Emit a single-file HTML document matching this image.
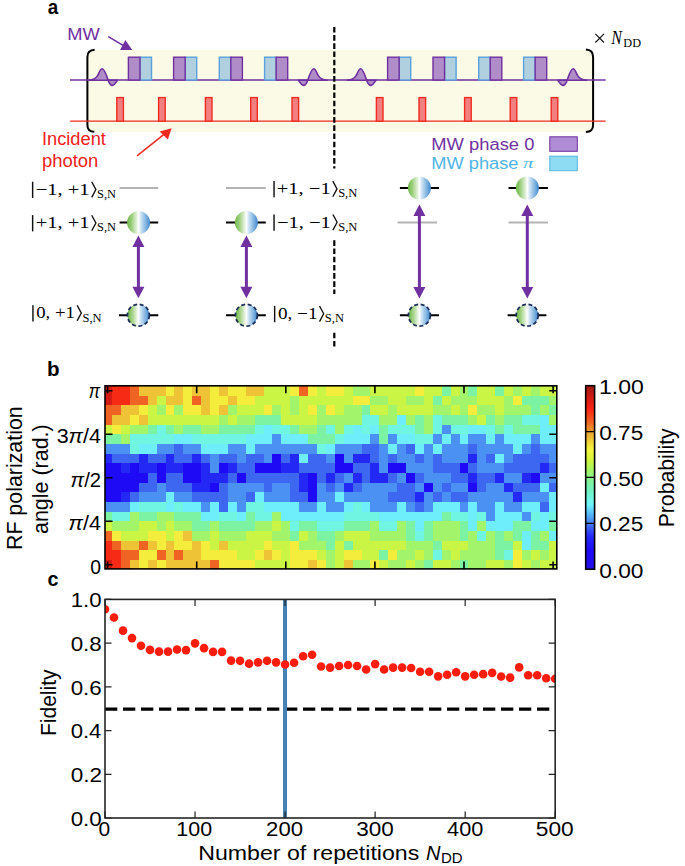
<!DOCTYPE html>
<html><head><meta charset="utf-8"><style>
html,body{margin:0;padding:0;background:#fff;width:685px;height:866px;overflow:hidden;}
svg{display:block;}
text{font-family:"Liberation Sans",sans-serif;}
.sf{font-family:"Liberation Serif",serif;}
</style></head><body>
<svg width="685" height="866" viewBox="0 0 685 866">
<defs>
<linearGradient id="sph" x1="0" y1="0" x2="1" y2="0">
<stop offset="0" stop-color="#6cb84a"/><stop offset="0.2" stop-color="#9fd07f"/><stop offset="0.42" stop-color="#e3f1da"/>
<stop offset="0.5" stop-color="#ffffff"/><stop offset="0.6" stop-color="#cfe3f3"/><stop offset="0.82" stop-color="#7fb3e0"/><stop offset="1" stop-color="#3f86cc"/>
</linearGradient>
<marker id="ah" viewBox="0 0 10 10" refX="10" refY="5" markerWidth="4" markerHeight="4" orient="auto-start-reverse"><path d="M0 0L10 5L0 10z" fill="#7030a0"/></marker>
</defs>
<!-- ===== panel a ===== -->
<text x="47.80" y="14.15" font-size="21.00" font-weight="bold" textLength="10.44" lengthAdjust="spacingAndGlyphs">a</text>
<text x="67.30" y="40.00" font-size="17.30"  fill="#7030a0" textLength="32.47" lengthAdjust="spacingAndGlyphs">MW</text>
<text x="41.95" y="144.65" font-size="17.60"  fill="#f02020" textLength="63.99" lengthAdjust="spacingAndGlyphs">Incident</text>
<text x="41.95" y="166.55" font-size="17.60"  fill="#f02020" textLength="56.36" lengthAdjust="spacingAndGlyphs">photon</text>
<text x="431.30" y="149.70" font-size="17.30"  fill="#7030a0" textLength="103.11" lengthAdjust="spacingAndGlyphs">MW phase 0</text>
<text x="431.30" y="169.00" font-size="17.30"  fill="#4fb4e6" textLength="87.21" lengthAdjust="spacingAndGlyphs">MW phase</text>
<text x="523.00" y="167.95" font-size="14.85" class="sf" font-style="italic" fill="#4fb4e6" textLength="10.56" lengthAdjust="spacingAndGlyphs">π</text>
<path d="M595.4 33.9L604 42.5M604 33.9L595.4 42.5" stroke="#111" stroke-width="1.15"/>
<text x="611.35" y="43.55" font-size="18.57" class="sf" font-style="italic" textLength="10.65" lengthAdjust="spacingAndGlyphs">N</text>
<text x="623.35" y="47.05" font-size="11.93" class="sf" textLength="17.72" lengthAdjust="spacingAndGlyphs">DD</text>
<line x1="32.65" y1="181.70" x2="32.65" y2="198.00" stroke="#111" stroke-width="1.45"/>
<text x="35.70" y="194.90" font-size="16.60" class="sf" textLength="53.89" lengthAdjust="spacingAndGlyphs">−1, +1</text>
<path d="M91.70 181.80L95.90 189.60L91.70 197.40" fill="none" stroke="#111" stroke-width="1.35"/>
<text x="97.05" y="198.05" font-size="12.60" class="sf" textLength="19.09" lengthAdjust="spacingAndGlyphs">S,N</text>
<line x1="32.65" y1="215.10" x2="32.65" y2="231.40" stroke="#111" stroke-width="1.45"/>
<text x="35.70" y="228.30" font-size="16.60" class="sf" textLength="53.89" lengthAdjust="spacingAndGlyphs">+1, +1</text>
<path d="M91.70 215.20L95.90 223.00L91.70 230.80" fill="none" stroke="#111" stroke-width="1.35"/>
<text x="97.05" y="231.45" font-size="12.60" class="sf" textLength="19.09" lengthAdjust="spacingAndGlyphs">S,N</text>
<line x1="32.95" y1="305.20" x2="32.95" y2="321.50" stroke="#111" stroke-width="1.45"/>
<text x="36.25" y="318.40" font-size="16.60" class="sf" textLength="38.64" lengthAdjust="spacingAndGlyphs">0, +1</text>
<path d="M77.10 305.30L81.30 313.10L77.10 320.90" fill="none" stroke="#111" stroke-width="1.35"/>
<text x="82.45" y="321.55" font-size="12.60" class="sf" textLength="19.09" lengthAdjust="spacingAndGlyphs">S,N</text>
<line x1="274.05" y1="181.00" x2="274.05" y2="197.30" stroke="#111" stroke-width="1.45"/>
<text x="276.80" y="194.20" font-size="16.60" class="sf" textLength="53.89" lengthAdjust="spacingAndGlyphs">+1, −1</text>
<path d="M332.80 181.10L337.00 188.90L332.80 196.70" fill="none" stroke="#111" stroke-width="1.35"/>
<text x="338.15" y="197.35" font-size="12.60" class="sf" textLength="19.09" lengthAdjust="spacingAndGlyphs">S,N</text>
<line x1="274.05" y1="214.40" x2="274.05" y2="230.70" stroke="#111" stroke-width="1.45"/>
<text x="277.00" y="227.60" font-size="16.60" class="sf" textLength="53.84" lengthAdjust="spacingAndGlyphs">−1, −1</text>
<path d="M332.90 214.50L337.10 222.30L332.90 230.10" fill="none" stroke="#111" stroke-width="1.35"/>
<text x="338.25" y="230.75" font-size="12.60" class="sf" textLength="19.09" lengthAdjust="spacingAndGlyphs">S,N</text>
<line x1="274.65" y1="305.90" x2="274.65" y2="322.20" stroke="#111" stroke-width="1.45"/>
<text x="277.95" y="319.10" font-size="16.60" class="sf" textLength="39.53" lengthAdjust="spacingAndGlyphs">0, −1</text>
<path d="M319.50 306.00L323.70 313.80L319.50 321.60" fill="none" stroke="#111" stroke-width="1.35"/>
<text x="324.85" y="322.25" font-size="12.60" class="sf" textLength="19.09" lengthAdjust="spacingAndGlyphs">S,N</text>

<line x1="108.3" y1="36.6" x2="123.5" y2="45.6" stroke="#7030a0" stroke-width="1.6"/>
<path d="M125.4 40L120 50.1L132.8 50.8z" fill="#7030a0"/>
<rect x="88" y="50" width="504" height="82" rx="6" fill="#fafae7"/>
<path d="M94.6 49.8C89.5 50 87.4 52.5 87.4 57V125C87.4 129.5 89.5 131.8 94.3 131.8" fill="none" stroke="#000" stroke-width="2"/>
<path d="M585.9 49.5C591 49.7 593.1 52.3 593.1 57V125C593.1 129.5 591 131.8 585.9 132" fill="none" stroke="#000" stroke-width="2"/>
<line x1="70" y1="80" x2="605.7" y2="80" stroke="#7030a0" stroke-width="1.35"/>
<line x1="70.2" y1="121.2" x2="605.7" y2="121.2" stroke="#f02a20" stroke-width="1.3"/>
<rect x="139.95" y="57.20" width="11.55" height="22.80" fill="#b0d0e0" stroke="#5aa0dc" stroke-width="1.4"/>
<rect x="128.40" y="57.20" width="11.55" height="22.80" fill="#b08cc8" stroke="#7030a0" stroke-width="1.4"/>
<rect x="185.15" y="57.20" width="11.55" height="22.80" fill="#b0d0e0" stroke="#5aa0dc" stroke-width="1.4"/>
<rect x="173.60" y="57.20" width="11.55" height="22.80" fill="#b08cc8" stroke="#7030a0" stroke-width="1.4"/>
<rect x="219.30" y="57.20" width="11.55" height="22.80" fill="#b0d0e0" stroke="#5aa0dc" stroke-width="1.4"/>
<rect x="230.85" y="57.20" width="11.55" height="22.80" fill="#b08cc8" stroke="#7030a0" stroke-width="1.4"/>
<rect x="264.60" y="57.20" width="11.55" height="22.80" fill="#b0d0e0" stroke="#5aa0dc" stroke-width="1.4"/>
<rect x="276.15" y="57.20" width="11.55" height="22.80" fill="#b08cc8" stroke="#7030a0" stroke-width="1.4"/>
<rect x="399.15" y="57.20" width="11.55" height="22.80" fill="#b0d0e0" stroke="#5aa0dc" stroke-width="1.4"/>
<rect x="387.60" y="57.20" width="11.55" height="22.80" fill="#b08cc8" stroke="#7030a0" stroke-width="1.4"/>
<rect x="444.55" y="57.20" width="11.55" height="22.80" fill="#b0d0e0" stroke="#5aa0dc" stroke-width="1.4"/>
<rect x="433.00" y="57.20" width="11.55" height="22.80" fill="#b08cc8" stroke="#7030a0" stroke-width="1.4"/>
<rect x="478.70" y="57.20" width="11.55" height="22.80" fill="#b0d0e0" stroke="#5aa0dc" stroke-width="1.4"/>
<rect x="490.25" y="57.20" width="11.55" height="22.80" fill="#b08cc8" stroke="#7030a0" stroke-width="1.4"/>
<rect x="523.60" y="57.20" width="11.55" height="22.80" fill="#b0d0e0" stroke="#5aa0dc" stroke-width="1.4"/>
<rect x="535.15" y="57.20" width="11.55" height="22.80" fill="#b08cc8" stroke="#7030a0" stroke-width="1.4"/>
<path d="M88.70 80.20C93.10 79.90 95.60 79.00 97.60 75.70C99.60 71.70 100.50 68.80 102.20 68.80C104.50 68.80 106.10 74.20 108.10 80.20C109.50 84.20 110.70 85.40 112.45 85.40C114.40 85.40 115.90 82.20 117.50 80.20Z" fill="#b08cc8" stroke="#7030a0" stroke-width="1.6" stroke-linejoin="round"/>
<path d="M327.20 80.20C322.80 79.90 320.30 79.00 318.30 75.70C316.30 71.70 315.40 68.80 313.70 68.80C311.40 68.80 309.80 74.20 307.80 80.20C306.40 84.20 305.20 85.40 303.45 85.40C301.50 85.40 300.00 82.20 298.40 80.20Z" fill="#b08cc8" stroke="#7030a0" stroke-width="1.6" stroke-linejoin="round"/>
<path d="M347.20 80.20C351.60 79.90 354.10 79.00 356.10 75.70C358.10 71.70 359.00 68.80 360.70 68.80C363.00 68.80 364.60 74.20 366.60 80.20C368.00 84.20 369.20 85.40 370.95 85.40C372.90 85.40 374.40 82.20 376.00 80.20Z" fill="#b08cc8" stroke="#7030a0" stroke-width="1.6" stroke-linejoin="round"/>
<path d="M586.60 80.20C582.20 79.90 579.70 79.00 577.70 75.70C575.70 71.70 574.80 68.80 573.10 68.80C570.80 68.80 569.20 74.20 567.20 80.20C565.80 84.20 564.60 85.40 562.85 85.40C560.90 85.40 559.40 82.20 557.80 80.20Z" fill="#b08cc8" stroke="#7030a0" stroke-width="1.6" stroke-linejoin="round"/>
<rect x="116.80" y="97.6" width="6.6" height="23.6" fill="#f28080" stroke="#f02a20" stroke-width="1.4"/>
<rect x="158.60" y="97.6" width="6.6" height="23.6" fill="#f28080" stroke="#f02a20" stroke-width="1.4"/>
<rect x="205.40" y="97.6" width="6.6" height="23.6" fill="#f28080" stroke="#f02a20" stroke-width="1.4"/>
<rect x="250.70" y="97.6" width="6.6" height="23.6" fill="#f28080" stroke="#f02a20" stroke-width="1.4"/>
<rect x="292.00" y="97.6" width="6.6" height="23.6" fill="#f28080" stroke="#f02a20" stroke-width="1.4"/>
<rect x="376.40" y="97.6" width="6.6" height="23.6" fill="#f28080" stroke="#f02a20" stroke-width="1.4"/>
<rect x="419.00" y="97.6" width="6.6" height="23.6" fill="#f28080" stroke="#f02a20" stroke-width="1.4"/>
<rect x="464.60" y="97.6" width="6.6" height="23.6" fill="#f28080" stroke="#f02a20" stroke-width="1.4"/>
<rect x="510.20" y="97.6" width="6.6" height="23.6" fill="#f28080" stroke="#f02a20" stroke-width="1.4"/>
<rect x="551.20" y="97.6" width="6.6" height="23.6" fill="#f28080" stroke="#f02a20" stroke-width="1.4"/>
<line x1="137" y1="155.9" x2="164" y2="134.3" stroke="#f02a20" stroke-width="1.5"/>
<path d="M171.6 128.3L159.7 131.4L167.9 139.5z" fill="#f02a20"/>
<rect x="549.8" y="136.8" width="27.5" height="14.5" fill="#b08cd4" stroke="#7030a0" stroke-width="1"/>
<rect x="549.8" y="156.2" width="27.5" height="14.5" fill="#8edcf4" stroke="#58b4dc" stroke-width="1"/>
<line x1="119.60" y1="188.00" x2="158.20" y2="188.00" stroke="#b4b4b4" stroke-width="2"/>
<line x1="119.60" y1="222.60" x2="158.20" y2="222.60" stroke="#000" stroke-width="2"/>
<line x1="119.00" y1="315.20" x2="158.30" y2="315.20" stroke="#000" stroke-width="2"/>
<circle cx="138.60" cy="222.60" r="11.5" fill="url(#sph)"/>
<circle cx="138.40" cy="315.20" r="11" fill="url(#sph)" stroke="#1c2e58" stroke-width="1.8" stroke-dasharray="4 2.6"/>
<line x1="138.40" y1="245.60" x2="138.40" y2="288.20" stroke="#7030a0" stroke-width="3"/>
<path d="M138.40 235.60L132.40 247.10L144.40 247.10z" fill="#7030a0"/>
<path d="M138.40 298.20L132.40 286.70L144.40 286.70z" fill="#7030a0"/>
<line x1="226.00" y1="188.00" x2="265.80" y2="188.00" stroke="#b4b4b4" stroke-width="2"/>
<line x1="226.00" y1="222.60" x2="265.80" y2="222.60" stroke="#000" stroke-width="2"/>
<line x1="226.00" y1="315.20" x2="265.80" y2="315.20" stroke="#000" stroke-width="2"/>
<circle cx="246.40" cy="222.60" r="11.5" fill="url(#sph)"/>
<circle cx="246.40" cy="315.20" r="11" fill="url(#sph)" stroke="#1c2e58" stroke-width="1.8" stroke-dasharray="4 2.6"/>
<line x1="246.40" y1="245.60" x2="246.40" y2="288.20" stroke="#7030a0" stroke-width="3"/>
<path d="M246.40 235.60L240.40 247.10L252.40 247.10z" fill="#7030a0"/>
<path d="M246.40 298.20L240.40 286.70L252.40 286.70z" fill="#7030a0"/>
<line x1="399.90" y1="188.00" x2="439.00" y2="188.00" stroke="#000" stroke-width="2"/>
<line x1="397.50" y1="222.60" x2="437.00" y2="222.60" stroke="#b4b4b4" stroke-width="2"/>
<line x1="399.90" y1="315.20" x2="439.00" y2="315.20" stroke="#000" stroke-width="2"/>
<circle cx="419.40" cy="188.00" r="11.5" fill="url(#sph)"/>
<circle cx="419.40" cy="315.20" r="11" fill="url(#sph)" stroke="#1c2e58" stroke-width="1.8" stroke-dasharray="4 2.6"/>
<line x1="419.40" y1="214.50" x2="419.40" y2="288.50" stroke="#7030a0" stroke-width="3"/>
<path d="M419.40 204.50L413.40 216.00L425.40 216.00z" fill="#7030a0"/>
<path d="M419.40 298.50L413.40 287.00L425.40 287.00z" fill="#7030a0"/>
<line x1="508.50" y1="188.00" x2="547.90" y2="188.00" stroke="#000" stroke-width="2"/>
<line x1="508.50" y1="222.60" x2="547.90" y2="222.60" stroke="#b4b4b4" stroke-width="2"/>
<line x1="507.60" y1="315.20" x2="546.40" y2="315.20" stroke="#000" stroke-width="2"/>
<circle cx="527.40" cy="188.00" r="11.5" fill="url(#sph)"/>
<circle cx="527.20" cy="315.20" r="11" fill="url(#sph)" stroke="#1c2e58" stroke-width="1.8" stroke-dasharray="4 2.6"/>
<line x1="527.30" y1="214.50" x2="527.30" y2="288.50" stroke="#7030a0" stroke-width="3"/>
<path d="M527.30 204.50L521.30 216.00L533.30 216.00z" fill="#7030a0"/>
<path d="M527.30 298.50L521.30 287.00L533.30 287.00z" fill="#7030a0"/>
<!-- dashed divider -->
<path d="M334.3 26.9V168.5M334.3 240.3V293.9M334.3 332.7V348" stroke="#000" stroke-width="2.2" stroke-dasharray="5.6 2.6"/>
<!-- ===== panel b ===== -->

<clipPath id="hc"><rect x="105.00" y="385.80" width="451.80" height="183.10"/></clipPath>
<g clip-path="url(#hc)" shape-rendering="crispEdges">
<rect x="103.14" y="385.90" width="9.41" height="10.17" fill="#d31b14"/>
<rect x="112.05" y="385.90" width="9.41" height="10.17" fill="#f72a16"/>
<rect x="120.96" y="385.90" width="9.41" height="10.17" fill="#f72a16"/>
<rect x="129.87" y="385.90" width="9.41" height="10.17" fill="#f06423"/>
<rect x="138.78" y="385.90" width="9.41" height="10.17" fill="#eec436"/>
<rect x="147.69" y="385.90" width="9.41" height="10.17" fill="#eec436"/>
<rect x="156.60" y="385.90" width="9.41" height="10.17" fill="#eec436"/>
<rect x="165.51" y="385.90" width="9.41" height="10.17" fill="#f4ed3b"/>
<rect x="174.42" y="385.90" width="9.41" height="10.17" fill="#eec436"/>
<rect x="183.33" y="385.90" width="9.41" height="10.17" fill="#f4ed3b"/>
<rect x="192.24" y="385.90" width="9.41" height="10.17" fill="#eec436"/>
<rect x="201.16" y="385.90" width="9.41" height="10.17" fill="#eec436"/>
<rect x="210.06" y="385.90" width="9.41" height="10.17" fill="#f4ed3b"/>
<rect x="218.97" y="385.90" width="9.41" height="10.17" fill="#eec436"/>
<rect x="227.88" y="385.90" width="9.41" height="10.17" fill="#f4ed3b"/>
<rect x="236.79" y="385.90" width="9.41" height="10.17" fill="#f4ed3b"/>
<rect x="245.70" y="385.90" width="9.41" height="10.17" fill="#eec436"/>
<rect x="254.61" y="385.90" width="9.41" height="10.17" fill="#eec436"/>
<rect x="263.53" y="385.90" width="9.41" height="10.17" fill="#caf544"/>
<rect x="272.44" y="385.90" width="9.41" height="10.17" fill="#caf544"/>
<rect x="281.34" y="385.90" width="9.41" height="10.17" fill="#caf544"/>
<rect x="290.26" y="385.90" width="9.41" height="10.17" fill="#f4ed3b"/>
<rect x="299.17" y="385.90" width="9.41" height="10.17" fill="#f06423"/>
<rect x="308.07" y="385.90" width="9.41" height="10.17" fill="#f4ed3b"/>
<rect x="316.99" y="385.90" width="9.41" height="10.17" fill="#caf544"/>
<rect x="325.90" y="385.90" width="9.41" height="10.17" fill="#f4ed3b"/>
<rect x="334.81" y="385.90" width="9.41" height="10.17" fill="#f4ed3b"/>
<rect x="343.71" y="385.90" width="9.41" height="10.17" fill="#caf544"/>
<rect x="352.63" y="385.90" width="9.41" height="10.17" fill="#a2f56b"/>
<rect x="361.54" y="385.90" width="9.41" height="10.17" fill="#a2f56b"/>
<rect x="370.44" y="385.90" width="9.41" height="10.17" fill="#caf544"/>
<rect x="379.35" y="385.90" width="9.41" height="10.17" fill="#caf544"/>
<rect x="388.27" y="385.90" width="9.41" height="10.17" fill="#caf544"/>
<rect x="397.18" y="385.90" width="9.41" height="10.17" fill="#caf544"/>
<rect x="406.08" y="385.90" width="9.41" height="10.17" fill="#caf544"/>
<rect x="415.00" y="385.90" width="9.41" height="10.17" fill="#f4ed3b"/>
<rect x="423.91" y="385.90" width="9.41" height="10.17" fill="#caf544"/>
<rect x="432.81" y="385.90" width="9.41" height="10.17" fill="#caf544"/>
<rect x="441.72" y="385.90" width="9.41" height="10.17" fill="#7cf2a3"/>
<rect x="450.64" y="385.90" width="9.41" height="10.17" fill="#caf544"/>
<rect x="459.55" y="385.90" width="9.41" height="10.17" fill="#a2f56b"/>
<rect x="468.45" y="385.90" width="9.41" height="10.17" fill="#7cf2a3"/>
<rect x="477.37" y="385.90" width="9.41" height="10.17" fill="#caf544"/>
<rect x="486.28" y="385.90" width="9.41" height="10.17" fill="#caf544"/>
<rect x="495.19" y="385.90" width="9.41" height="10.17" fill="#7cf2a3"/>
<rect x="504.09" y="385.90" width="9.41" height="10.17" fill="#caf544"/>
<rect x="513.00" y="385.90" width="9.41" height="10.17" fill="#a2f56b"/>
<rect x="521.91" y="385.90" width="9.41" height="10.17" fill="#caf544"/>
<rect x="530.82" y="385.90" width="9.41" height="10.17" fill="#a2f56b"/>
<rect x="539.74" y="385.90" width="9.41" height="10.17" fill="#caf544"/>
<rect x="548.64" y="385.90" width="9.41" height="10.17" fill="#caf544"/>
<rect x="103.14" y="395.57" width="9.41" height="10.17" fill="#d31b14"/>
<rect x="112.05" y="395.57" width="9.41" height="10.17" fill="#f72a16"/>
<rect x="120.96" y="395.57" width="9.41" height="10.17" fill="#f72a16"/>
<rect x="129.87" y="395.57" width="9.41" height="10.17" fill="#f06423"/>
<rect x="138.78" y="395.57" width="9.41" height="10.17" fill="#f06423"/>
<rect x="147.69" y="395.57" width="9.41" height="10.17" fill="#eec436"/>
<rect x="156.60" y="395.57" width="9.41" height="10.17" fill="#caf544"/>
<rect x="165.51" y="395.57" width="9.41" height="10.17" fill="#eec436"/>
<rect x="174.42" y="395.57" width="9.41" height="10.17" fill="#eec436"/>
<rect x="183.33" y="395.57" width="9.41" height="10.17" fill="#f4ed3b"/>
<rect x="192.24" y="395.57" width="9.41" height="10.17" fill="#f06423"/>
<rect x="201.16" y="395.57" width="9.41" height="10.17" fill="#eec436"/>
<rect x="210.06" y="395.57" width="9.41" height="10.17" fill="#f4ed3b"/>
<rect x="218.97" y="395.57" width="9.41" height="10.17" fill="#f4ed3b"/>
<rect x="227.88" y="395.57" width="9.41" height="10.17" fill="#eec436"/>
<rect x="236.79" y="395.57" width="9.41" height="10.17" fill="#f4ed3b"/>
<rect x="245.70" y="395.57" width="9.41" height="10.17" fill="#f4ed3b"/>
<rect x="254.61" y="395.57" width="9.41" height="10.17" fill="#caf544"/>
<rect x="263.53" y="395.57" width="9.41" height="10.17" fill="#caf544"/>
<rect x="272.44" y="395.57" width="9.41" height="10.17" fill="#caf544"/>
<rect x="281.34" y="395.57" width="9.41" height="10.17" fill="#caf544"/>
<rect x="290.26" y="395.57" width="9.41" height="10.17" fill="#a2f56b"/>
<rect x="299.17" y="395.57" width="9.41" height="10.17" fill="#caf544"/>
<rect x="308.07" y="395.57" width="9.41" height="10.17" fill="#caf544"/>
<rect x="316.99" y="395.57" width="9.41" height="10.17" fill="#caf544"/>
<rect x="325.90" y="395.57" width="9.41" height="10.17" fill="#caf544"/>
<rect x="334.81" y="395.57" width="9.41" height="10.17" fill="#caf544"/>
<rect x="343.71" y="395.57" width="9.41" height="10.17" fill="#caf544"/>
<rect x="352.63" y="395.57" width="9.41" height="10.17" fill="#f4ed3b"/>
<rect x="361.54" y="395.57" width="9.41" height="10.17" fill="#f4ed3b"/>
<rect x="370.44" y="395.57" width="9.41" height="10.17" fill="#a2f56b"/>
<rect x="379.35" y="395.57" width="9.41" height="10.17" fill="#a2f56b"/>
<rect x="388.27" y="395.57" width="9.41" height="10.17" fill="#caf544"/>
<rect x="397.18" y="395.57" width="9.41" height="10.17" fill="#caf544"/>
<rect x="406.08" y="395.57" width="9.41" height="10.17" fill="#a2f56b"/>
<rect x="415.00" y="395.57" width="9.41" height="10.17" fill="#a2f56b"/>
<rect x="423.91" y="395.57" width="9.41" height="10.17" fill="#caf544"/>
<rect x="432.81" y="395.57" width="9.41" height="10.17" fill="#7cf2a3"/>
<rect x="441.72" y="395.57" width="9.41" height="10.17" fill="#caf544"/>
<rect x="450.64" y="395.57" width="9.41" height="10.17" fill="#a2f56b"/>
<rect x="459.55" y="395.57" width="9.41" height="10.17" fill="#a2f56b"/>
<rect x="468.45" y="395.57" width="9.41" height="10.17" fill="#a2f56b"/>
<rect x="477.37" y="395.57" width="9.41" height="10.17" fill="#caf544"/>
<rect x="486.28" y="395.57" width="9.41" height="10.17" fill="#caf544"/>
<rect x="495.19" y="395.57" width="9.41" height="10.17" fill="#caf544"/>
<rect x="504.09" y="395.57" width="9.41" height="10.17" fill="#a2f56b"/>
<rect x="513.00" y="395.57" width="9.41" height="10.17" fill="#f4ed3b"/>
<rect x="521.91" y="395.57" width="9.41" height="10.17" fill="#7cf2a3"/>
<rect x="530.82" y="395.57" width="9.41" height="10.17" fill="#7cf2a3"/>
<rect x="539.74" y="395.57" width="9.41" height="10.17" fill="#7cf2a3"/>
<rect x="548.64" y="395.57" width="9.41" height="10.17" fill="#a2f56b"/>
<rect x="103.14" y="405.24" width="9.41" height="10.17" fill="#f06423"/>
<rect x="112.05" y="405.24" width="9.41" height="10.17" fill="#f06423"/>
<rect x="120.96" y="405.24" width="9.41" height="10.17" fill="#eec436"/>
<rect x="129.87" y="405.24" width="9.41" height="10.17" fill="#eec436"/>
<rect x="138.78" y="405.24" width="9.41" height="10.17" fill="#f4ed3b"/>
<rect x="147.69" y="405.24" width="9.41" height="10.17" fill="#caf544"/>
<rect x="156.60" y="405.24" width="9.41" height="10.17" fill="#a2f56b"/>
<rect x="165.51" y="405.24" width="9.41" height="10.17" fill="#f4ed3b"/>
<rect x="174.42" y="405.24" width="9.41" height="10.17" fill="#a2f56b"/>
<rect x="183.33" y="405.24" width="9.41" height="10.17" fill="#f4ed3b"/>
<rect x="192.24" y="405.24" width="9.41" height="10.17" fill="#f4ed3b"/>
<rect x="201.16" y="405.24" width="9.41" height="10.17" fill="#eec436"/>
<rect x="210.06" y="405.24" width="9.41" height="10.17" fill="#f4ed3b"/>
<rect x="218.97" y="405.24" width="9.41" height="10.17" fill="#eec436"/>
<rect x="227.88" y="405.24" width="9.41" height="10.17" fill="#a2f56b"/>
<rect x="236.79" y="405.24" width="9.41" height="10.17" fill="#caf544"/>
<rect x="245.70" y="405.24" width="9.41" height="10.17" fill="#caf544"/>
<rect x="254.61" y="405.24" width="9.41" height="10.17" fill="#caf544"/>
<rect x="263.53" y="405.24" width="9.41" height="10.17" fill="#f4ed3b"/>
<rect x="272.44" y="405.24" width="9.41" height="10.17" fill="#a2f56b"/>
<rect x="281.34" y="405.24" width="9.41" height="10.17" fill="#caf544"/>
<rect x="290.26" y="405.24" width="9.41" height="10.17" fill="#a2f56b"/>
<rect x="299.17" y="405.24" width="9.41" height="10.17" fill="#caf544"/>
<rect x="308.07" y="405.24" width="9.41" height="10.17" fill="#f4ed3b"/>
<rect x="316.99" y="405.24" width="9.41" height="10.17" fill="#a2f56b"/>
<rect x="325.90" y="405.24" width="9.41" height="10.17" fill="#f4ed3b"/>
<rect x="334.81" y="405.24" width="9.41" height="10.17" fill="#caf544"/>
<rect x="343.71" y="405.24" width="9.41" height="10.17" fill="#a2f56b"/>
<rect x="352.63" y="405.24" width="9.41" height="10.17" fill="#a2f56b"/>
<rect x="361.54" y="405.24" width="9.41" height="10.17" fill="#7cf2a3"/>
<rect x="370.44" y="405.24" width="9.41" height="10.17" fill="#caf544"/>
<rect x="379.35" y="405.24" width="9.41" height="10.17" fill="#caf544"/>
<rect x="388.27" y="405.24" width="9.41" height="10.17" fill="#a2f56b"/>
<rect x="397.18" y="405.24" width="9.41" height="10.17" fill="#caf544"/>
<rect x="406.08" y="405.24" width="9.41" height="10.17" fill="#caf544"/>
<rect x="415.00" y="405.24" width="9.41" height="10.17" fill="#caf544"/>
<rect x="423.91" y="405.24" width="9.41" height="10.17" fill="#caf544"/>
<rect x="432.81" y="405.24" width="9.41" height="10.17" fill="#a2f56b"/>
<rect x="441.72" y="405.24" width="9.41" height="10.17" fill="#a2f56b"/>
<rect x="450.64" y="405.24" width="9.41" height="10.17" fill="#caf544"/>
<rect x="459.55" y="405.24" width="9.41" height="10.17" fill="#a2f56b"/>
<rect x="468.45" y="405.24" width="9.41" height="10.17" fill="#f4ed3b"/>
<rect x="477.37" y="405.24" width="9.41" height="10.17" fill="#a2f56b"/>
<rect x="486.28" y="405.24" width="9.41" height="10.17" fill="#a2f56b"/>
<rect x="495.19" y="405.24" width="9.41" height="10.17" fill="#caf544"/>
<rect x="504.09" y="405.24" width="9.41" height="10.17" fill="#a2f56b"/>
<rect x="513.00" y="405.24" width="9.41" height="10.17" fill="#a2f56b"/>
<rect x="521.91" y="405.24" width="9.41" height="10.17" fill="#a2f56b"/>
<rect x="530.82" y="405.24" width="9.41" height="10.17" fill="#7cf2a3"/>
<rect x="539.74" y="405.24" width="9.41" height="10.17" fill="#a2f56b"/>
<rect x="548.64" y="405.24" width="9.41" height="10.17" fill="#7cf2a3"/>
<rect x="103.14" y="414.91" width="9.41" height="10.17" fill="#f06423"/>
<rect x="112.05" y="414.91" width="9.41" height="10.17" fill="#eec436"/>
<rect x="120.96" y="414.91" width="9.41" height="10.17" fill="#eec436"/>
<rect x="129.87" y="414.91" width="9.41" height="10.17" fill="#f4ed3b"/>
<rect x="138.78" y="414.91" width="9.41" height="10.17" fill="#eec436"/>
<rect x="147.69" y="414.91" width="9.41" height="10.17" fill="#caf544"/>
<rect x="156.60" y="414.91" width="9.41" height="10.17" fill="#caf544"/>
<rect x="165.51" y="414.91" width="9.41" height="10.17" fill="#caf544"/>
<rect x="174.42" y="414.91" width="9.41" height="10.17" fill="#caf544"/>
<rect x="183.33" y="414.91" width="9.41" height="10.17" fill="#caf544"/>
<rect x="192.24" y="414.91" width="9.41" height="10.17" fill="#caf544"/>
<rect x="201.16" y="414.91" width="9.41" height="10.17" fill="#caf544"/>
<rect x="210.06" y="414.91" width="9.41" height="10.17" fill="#caf544"/>
<rect x="218.97" y="414.91" width="9.41" height="10.17" fill="#a2f56b"/>
<rect x="227.88" y="414.91" width="9.41" height="10.17" fill="#caf544"/>
<rect x="236.79" y="414.91" width="9.41" height="10.17" fill="#a2f56b"/>
<rect x="245.70" y="414.91" width="9.41" height="10.17" fill="#a2f56b"/>
<rect x="254.61" y="414.91" width="9.41" height="10.17" fill="#7cf2a3"/>
<rect x="263.53" y="414.91" width="9.41" height="10.17" fill="#7cf2a3"/>
<rect x="272.44" y="414.91" width="9.41" height="10.17" fill="#7cf2a3"/>
<rect x="281.34" y="414.91" width="9.41" height="10.17" fill="#caf544"/>
<rect x="290.26" y="414.91" width="9.41" height="10.17" fill="#caf544"/>
<rect x="299.17" y="414.91" width="9.41" height="10.17" fill="#caf544"/>
<rect x="308.07" y="414.91" width="9.41" height="10.17" fill="#caf544"/>
<rect x="316.99" y="414.91" width="9.41" height="10.17" fill="#a2f56b"/>
<rect x="325.90" y="414.91" width="9.41" height="10.17" fill="#a2f56b"/>
<rect x="334.81" y="414.91" width="9.41" height="10.17" fill="#a2f56b"/>
<rect x="343.71" y="414.91" width="9.41" height="10.17" fill="#a2f56b"/>
<rect x="352.63" y="414.91" width="9.41" height="10.17" fill="#a2f56b"/>
<rect x="361.54" y="414.91" width="9.41" height="10.17" fill="#71f5e3"/>
<rect x="370.44" y="414.91" width="9.41" height="10.17" fill="#71f5e3"/>
<rect x="379.35" y="414.91" width="9.41" height="10.17" fill="#a2f56b"/>
<rect x="388.27" y="414.91" width="9.41" height="10.17" fill="#a2f56b"/>
<rect x="397.18" y="414.91" width="9.41" height="10.17" fill="#6eedfa"/>
<rect x="406.08" y="414.91" width="9.41" height="10.17" fill="#a2f56b"/>
<rect x="415.00" y="414.91" width="9.41" height="10.17" fill="#7cf2a3"/>
<rect x="423.91" y="414.91" width="9.41" height="10.17" fill="#a2f56b"/>
<rect x="432.81" y="414.91" width="9.41" height="10.17" fill="#71f5e3"/>
<rect x="441.72" y="414.91" width="9.41" height="10.17" fill="#7cf2a3"/>
<rect x="450.64" y="414.91" width="9.41" height="10.17" fill="#7cf2a3"/>
<rect x="459.55" y="414.91" width="9.41" height="10.17" fill="#7cf2a3"/>
<rect x="468.45" y="414.91" width="9.41" height="10.17" fill="#a2f56b"/>
<rect x="477.37" y="414.91" width="9.41" height="10.17" fill="#caf544"/>
<rect x="486.28" y="414.91" width="9.41" height="10.17" fill="#7cf2a3"/>
<rect x="495.19" y="414.91" width="9.41" height="10.17" fill="#a2f56b"/>
<rect x="504.09" y="414.91" width="9.41" height="10.17" fill="#7cf2a3"/>
<rect x="513.00" y="414.91" width="9.41" height="10.17" fill="#7cf2a3"/>
<rect x="521.91" y="414.91" width="9.41" height="10.17" fill="#71f5e3"/>
<rect x="530.82" y="414.91" width="9.41" height="10.17" fill="#71f5e3"/>
<rect x="539.74" y="414.91" width="9.41" height="10.17" fill="#6eedfa"/>
<rect x="548.64" y="414.91" width="9.41" height="10.17" fill="#a2f56b"/>
<rect x="103.14" y="424.58" width="9.41" height="10.17" fill="#caf544"/>
<rect x="112.05" y="424.58" width="9.41" height="10.17" fill="#f4ed3b"/>
<rect x="120.96" y="424.58" width="9.41" height="10.17" fill="#caf544"/>
<rect x="129.87" y="424.58" width="9.41" height="10.17" fill="#a2f56b"/>
<rect x="138.78" y="424.58" width="9.41" height="10.17" fill="#a2f56b"/>
<rect x="147.69" y="424.58" width="9.41" height="10.17" fill="#7cf2a3"/>
<rect x="156.60" y="424.58" width="9.41" height="10.17" fill="#71f5e3"/>
<rect x="165.51" y="424.58" width="9.41" height="10.17" fill="#7cf2a3"/>
<rect x="174.42" y="424.58" width="9.41" height="10.17" fill="#a2f56b"/>
<rect x="183.33" y="424.58" width="9.41" height="10.17" fill="#7cf2a3"/>
<rect x="192.24" y="424.58" width="9.41" height="10.17" fill="#7cf2a3"/>
<rect x="201.16" y="424.58" width="9.41" height="10.17" fill="#a2f56b"/>
<rect x="210.06" y="424.58" width="9.41" height="10.17" fill="#a2f56b"/>
<rect x="218.97" y="424.58" width="9.41" height="10.17" fill="#7cf2a3"/>
<rect x="227.88" y="424.58" width="9.41" height="10.17" fill="#7cf2a3"/>
<rect x="236.79" y="424.58" width="9.41" height="10.17" fill="#7cf2a3"/>
<rect x="245.70" y="424.58" width="9.41" height="10.17" fill="#7cf2a3"/>
<rect x="254.61" y="424.58" width="9.41" height="10.17" fill="#71f5e3"/>
<rect x="263.53" y="424.58" width="9.41" height="10.17" fill="#6eedfa"/>
<rect x="272.44" y="424.58" width="9.41" height="10.17" fill="#71f5e3"/>
<rect x="281.34" y="424.58" width="9.41" height="10.17" fill="#71f5e3"/>
<rect x="290.26" y="424.58" width="9.41" height="10.17" fill="#7cf2a3"/>
<rect x="299.17" y="424.58" width="9.41" height="10.17" fill="#a2f56b"/>
<rect x="308.07" y="424.58" width="9.41" height="10.17" fill="#a2f56b"/>
<rect x="316.99" y="424.58" width="9.41" height="10.17" fill="#7cf2a3"/>
<rect x="325.90" y="424.58" width="9.41" height="10.17" fill="#71f5e3"/>
<rect x="334.81" y="424.58" width="9.41" height="10.17" fill="#a2f56b"/>
<rect x="343.71" y="424.58" width="9.41" height="10.17" fill="#71f5e3"/>
<rect x="352.63" y="424.58" width="9.41" height="10.17" fill="#6eedfa"/>
<rect x="361.54" y="424.58" width="9.41" height="10.17" fill="#71f5e3"/>
<rect x="370.44" y="424.58" width="9.41" height="10.17" fill="#6eedfa"/>
<rect x="379.35" y="424.58" width="9.41" height="10.17" fill="#7cf2a3"/>
<rect x="388.27" y="424.58" width="9.41" height="10.17" fill="#71f5e3"/>
<rect x="397.18" y="424.58" width="9.41" height="10.17" fill="#71f5e3"/>
<rect x="406.08" y="424.58" width="9.41" height="10.17" fill="#71f5e3"/>
<rect x="415.00" y="424.58" width="9.41" height="10.17" fill="#7cf2a3"/>
<rect x="423.91" y="424.58" width="9.41" height="10.17" fill="#a2f56b"/>
<rect x="432.81" y="424.58" width="9.41" height="10.17" fill="#71f5e3"/>
<rect x="441.72" y="424.58" width="9.41" height="10.17" fill="#4b91f3"/>
<rect x="450.64" y="424.58" width="9.41" height="10.17" fill="#71f5e3"/>
<rect x="459.55" y="424.58" width="9.41" height="10.17" fill="#71f5e3"/>
<rect x="468.45" y="424.58" width="9.41" height="10.17" fill="#6eedfa"/>
<rect x="477.37" y="424.58" width="9.41" height="10.17" fill="#6eedfa"/>
<rect x="486.28" y="424.58" width="9.41" height="10.17" fill="#71f5e3"/>
<rect x="495.19" y="424.58" width="9.41" height="10.17" fill="#7cf2a3"/>
<rect x="504.09" y="424.58" width="9.41" height="10.17" fill="#71f5e3"/>
<rect x="513.00" y="424.58" width="9.41" height="10.17" fill="#7cf2a3"/>
<rect x="521.91" y="424.58" width="9.41" height="10.17" fill="#7cf2a3"/>
<rect x="530.82" y="424.58" width="9.41" height="10.17" fill="#7cf2a3"/>
<rect x="539.74" y="424.58" width="9.41" height="10.17" fill="#6eedfa"/>
<rect x="548.64" y="424.58" width="9.41" height="10.17" fill="#6eedfa"/>
<rect x="103.14" y="434.25" width="9.41" height="10.17" fill="#7cf2a3"/>
<rect x="112.05" y="434.25" width="9.41" height="10.17" fill="#7cf2a3"/>
<rect x="120.96" y="434.25" width="9.41" height="10.17" fill="#a2f56b"/>
<rect x="129.87" y="434.25" width="9.41" height="10.17" fill="#71f5e3"/>
<rect x="138.78" y="434.25" width="9.41" height="10.17" fill="#71f5e3"/>
<rect x="147.69" y="434.25" width="9.41" height="10.17" fill="#71f5e3"/>
<rect x="156.60" y="434.25" width="9.41" height="10.17" fill="#71f5e3"/>
<rect x="165.51" y="434.25" width="9.41" height="10.17" fill="#71f5e3"/>
<rect x="174.42" y="434.25" width="9.41" height="10.17" fill="#6eedfa"/>
<rect x="183.33" y="434.25" width="9.41" height="10.17" fill="#6eedfa"/>
<rect x="192.24" y="434.25" width="9.41" height="10.17" fill="#71f5e3"/>
<rect x="201.16" y="434.25" width="9.41" height="10.17" fill="#71f5e3"/>
<rect x="210.06" y="434.25" width="9.41" height="10.17" fill="#71f5e3"/>
<rect x="218.97" y="434.25" width="9.41" height="10.17" fill="#71f5e3"/>
<rect x="227.88" y="434.25" width="9.41" height="10.17" fill="#71f5e3"/>
<rect x="236.79" y="434.25" width="9.41" height="10.17" fill="#71f5e3"/>
<rect x="245.70" y="434.25" width="9.41" height="10.17" fill="#6eedfa"/>
<rect x="254.61" y="434.25" width="9.41" height="10.17" fill="#6eedfa"/>
<rect x="263.53" y="434.25" width="9.41" height="10.17" fill="#6eedfa"/>
<rect x="272.44" y="434.25" width="9.41" height="10.17" fill="#4b91f3"/>
<rect x="281.34" y="434.25" width="9.41" height="10.17" fill="#6eedfa"/>
<rect x="290.26" y="434.25" width="9.41" height="10.17" fill="#6eedfa"/>
<rect x="299.17" y="434.25" width="9.41" height="10.17" fill="#6eedfa"/>
<rect x="308.07" y="434.25" width="9.41" height="10.17" fill="#7cf2a3"/>
<rect x="316.99" y="434.25" width="9.41" height="10.17" fill="#7cf2a3"/>
<rect x="325.90" y="434.25" width="9.41" height="10.17" fill="#7cf2a3"/>
<rect x="334.81" y="434.25" width="9.41" height="10.17" fill="#71f5e3"/>
<rect x="343.71" y="434.25" width="9.41" height="10.17" fill="#6eedfa"/>
<rect x="352.63" y="434.25" width="9.41" height="10.17" fill="#6eedfa"/>
<rect x="361.54" y="434.25" width="9.41" height="10.17" fill="#6eedfa"/>
<rect x="370.44" y="434.25" width="9.41" height="10.17" fill="#4b91f3"/>
<rect x="379.35" y="434.25" width="9.41" height="10.17" fill="#7cf2a3"/>
<rect x="388.27" y="434.25" width="9.41" height="10.17" fill="#4b91f3"/>
<rect x="397.18" y="434.25" width="9.41" height="10.17" fill="#6eedfa"/>
<rect x="406.08" y="434.25" width="9.41" height="10.17" fill="#6eedfa"/>
<rect x="415.00" y="434.25" width="9.41" height="10.17" fill="#71f5e3"/>
<rect x="423.91" y="434.25" width="9.41" height="10.17" fill="#71f5e3"/>
<rect x="432.81" y="434.25" width="9.41" height="10.17" fill="#4b91f3"/>
<rect x="441.72" y="434.25" width="9.41" height="10.17" fill="#6eedfa"/>
<rect x="450.64" y="434.25" width="9.41" height="10.17" fill="#4b91f3"/>
<rect x="459.55" y="434.25" width="9.41" height="10.17" fill="#6eedfa"/>
<rect x="468.45" y="434.25" width="9.41" height="10.17" fill="#4b91f3"/>
<rect x="477.37" y="434.25" width="9.41" height="10.17" fill="#4b91f3"/>
<rect x="486.28" y="434.25" width="9.41" height="10.17" fill="#6eedfa"/>
<rect x="495.19" y="434.25" width="9.41" height="10.17" fill="#4b91f3"/>
<rect x="504.09" y="434.25" width="9.41" height="10.17" fill="#6eedfa"/>
<rect x="513.00" y="434.25" width="9.41" height="10.17" fill="#6eedfa"/>
<rect x="521.91" y="434.25" width="9.41" height="10.17" fill="#6eedfa"/>
<rect x="530.82" y="434.25" width="9.41" height="10.17" fill="#4b91f3"/>
<rect x="539.74" y="434.25" width="9.41" height="10.17" fill="#6eedfa"/>
<rect x="548.64" y="434.25" width="9.41" height="10.17" fill="#6eedfa"/>
<rect x="103.14" y="443.93" width="9.41" height="10.17" fill="#4b91f3"/>
<rect x="112.05" y="443.93" width="9.41" height="10.17" fill="#4b91f3"/>
<rect x="120.96" y="443.93" width="9.41" height="10.17" fill="#4b91f3"/>
<rect x="129.87" y="443.93" width="9.41" height="10.17" fill="#71f5e3"/>
<rect x="138.78" y="443.93" width="9.41" height="10.17" fill="#6eedfa"/>
<rect x="147.69" y="443.93" width="9.41" height="10.17" fill="#6eedfa"/>
<rect x="156.60" y="443.93" width="9.41" height="10.17" fill="#4b91f3"/>
<rect x="165.51" y="443.93" width="9.41" height="10.17" fill="#4b91f3"/>
<rect x="174.42" y="443.93" width="9.41" height="10.17" fill="#3d67f1"/>
<rect x="183.33" y="443.93" width="9.41" height="10.17" fill="#4b91f3"/>
<rect x="192.24" y="443.93" width="9.41" height="10.17" fill="#4b91f3"/>
<rect x="201.16" y="443.93" width="9.41" height="10.17" fill="#6eedfa"/>
<rect x="210.06" y="443.93" width="9.41" height="10.17" fill="#6eedfa"/>
<rect x="218.97" y="443.93" width="9.41" height="10.17" fill="#6eedfa"/>
<rect x="227.88" y="443.93" width="9.41" height="10.17" fill="#4b91f3"/>
<rect x="236.79" y="443.93" width="9.41" height="10.17" fill="#4b91f3"/>
<rect x="245.70" y="443.93" width="9.41" height="10.17" fill="#6eedfa"/>
<rect x="254.61" y="443.93" width="9.41" height="10.17" fill="#4b91f3"/>
<rect x="263.53" y="443.93" width="9.41" height="10.17" fill="#4b91f3"/>
<rect x="272.44" y="443.93" width="9.41" height="10.17" fill="#4b91f3"/>
<rect x="281.34" y="443.93" width="9.41" height="10.17" fill="#4b91f3"/>
<rect x="290.26" y="443.93" width="9.41" height="10.17" fill="#4b91f3"/>
<rect x="299.17" y="443.93" width="9.41" height="10.17" fill="#4b91f3"/>
<rect x="308.07" y="443.93" width="9.41" height="10.17" fill="#4b91f3"/>
<rect x="316.99" y="443.93" width="9.41" height="10.17" fill="#71f5e3"/>
<rect x="325.90" y="443.93" width="9.41" height="10.17" fill="#6eedfa"/>
<rect x="334.81" y="443.93" width="9.41" height="10.17" fill="#4b91f3"/>
<rect x="343.71" y="443.93" width="9.41" height="10.17" fill="#4b91f3"/>
<rect x="352.63" y="443.93" width="9.41" height="10.17" fill="#4b91f3"/>
<rect x="361.54" y="443.93" width="9.41" height="10.17" fill="#3d67f1"/>
<rect x="370.44" y="443.93" width="9.41" height="10.17" fill="#3d67f1"/>
<rect x="379.35" y="443.93" width="9.41" height="10.17" fill="#4b91f3"/>
<rect x="388.27" y="443.93" width="9.41" height="10.17" fill="#6eedfa"/>
<rect x="397.18" y="443.93" width="9.41" height="10.17" fill="#4b91f3"/>
<rect x="406.08" y="443.93" width="9.41" height="10.17" fill="#3d67f1"/>
<rect x="415.00" y="443.93" width="9.41" height="10.17" fill="#6eedfa"/>
<rect x="423.91" y="443.93" width="9.41" height="10.17" fill="#4b91f3"/>
<rect x="432.81" y="443.93" width="9.41" height="10.17" fill="#6eedfa"/>
<rect x="441.72" y="443.93" width="9.41" height="10.17" fill="#4b91f3"/>
<rect x="450.64" y="443.93" width="9.41" height="10.17" fill="#4b91f3"/>
<rect x="459.55" y="443.93" width="9.41" height="10.17" fill="#4b91f3"/>
<rect x="468.45" y="443.93" width="9.41" height="10.17" fill="#3d67f1"/>
<rect x="477.37" y="443.93" width="9.41" height="10.17" fill="#4b91f3"/>
<rect x="486.28" y="443.93" width="9.41" height="10.17" fill="#4b91f3"/>
<rect x="495.19" y="443.93" width="9.41" height="10.17" fill="#4b91f3"/>
<rect x="504.09" y="443.93" width="9.41" height="10.17" fill="#4b91f3"/>
<rect x="513.00" y="443.93" width="9.41" height="10.17" fill="#6eedfa"/>
<rect x="521.91" y="443.93" width="9.41" height="10.17" fill="#4b91f3"/>
<rect x="530.82" y="443.93" width="9.41" height="10.17" fill="#3d67f1"/>
<rect x="539.74" y="443.93" width="9.41" height="10.17" fill="#4b91f3"/>
<rect x="548.64" y="443.93" width="9.41" height="10.17" fill="#4b91f3"/>
<rect x="103.14" y="453.59" width="9.41" height="10.17" fill="#2328f5"/>
<rect x="112.05" y="453.59" width="9.41" height="10.17" fill="#3d67f1"/>
<rect x="120.96" y="453.59" width="9.41" height="10.17" fill="#3d67f1"/>
<rect x="129.87" y="453.59" width="9.41" height="10.17" fill="#3d67f1"/>
<rect x="138.78" y="453.59" width="9.41" height="10.17" fill="#2328f5"/>
<rect x="147.69" y="453.59" width="9.41" height="10.17" fill="#3d67f1"/>
<rect x="156.60" y="453.59" width="9.41" height="10.17" fill="#3d67f1"/>
<rect x="165.51" y="453.59" width="9.41" height="10.17" fill="#2328f5"/>
<rect x="174.42" y="453.59" width="9.41" height="10.17" fill="#3d67f1"/>
<rect x="183.33" y="453.59" width="9.41" height="10.17" fill="#3d67f1"/>
<rect x="192.24" y="453.59" width="9.41" height="10.17" fill="#2328f5"/>
<rect x="201.16" y="453.59" width="9.41" height="10.17" fill="#3d67f1"/>
<rect x="210.06" y="453.59" width="9.41" height="10.17" fill="#4b91f3"/>
<rect x="218.97" y="453.59" width="9.41" height="10.17" fill="#3d67f1"/>
<rect x="227.88" y="453.59" width="9.41" height="10.17" fill="#3d67f1"/>
<rect x="236.79" y="453.59" width="9.41" height="10.17" fill="#4b91f3"/>
<rect x="245.70" y="453.59" width="9.41" height="10.17" fill="#3d67f1"/>
<rect x="254.61" y="453.59" width="9.41" height="10.17" fill="#3d67f1"/>
<rect x="263.53" y="453.59" width="9.41" height="10.17" fill="#4b91f3"/>
<rect x="272.44" y="453.59" width="9.41" height="10.17" fill="#1e0af4"/>
<rect x="281.34" y="453.59" width="9.41" height="10.17" fill="#3d67f1"/>
<rect x="290.26" y="453.59" width="9.41" height="10.17" fill="#2328f5"/>
<rect x="299.17" y="453.59" width="9.41" height="10.17" fill="#6eedfa"/>
<rect x="308.07" y="453.59" width="9.41" height="10.17" fill="#3d67f1"/>
<rect x="316.99" y="453.59" width="9.41" height="10.17" fill="#3d67f1"/>
<rect x="325.90" y="453.59" width="9.41" height="10.17" fill="#4b91f3"/>
<rect x="334.81" y="453.59" width="9.41" height="10.17" fill="#1e0af4"/>
<rect x="343.71" y="453.59" width="9.41" height="10.17" fill="#4b91f3"/>
<rect x="352.63" y="453.59" width="9.41" height="10.17" fill="#2328f5"/>
<rect x="361.54" y="453.59" width="9.41" height="10.17" fill="#2328f5"/>
<rect x="370.44" y="453.59" width="9.41" height="10.17" fill="#3d67f1"/>
<rect x="379.35" y="453.59" width="9.41" height="10.17" fill="#4b91f3"/>
<rect x="388.27" y="453.59" width="9.41" height="10.17" fill="#3d67f1"/>
<rect x="397.18" y="453.59" width="9.41" height="10.17" fill="#4b91f3"/>
<rect x="406.08" y="453.59" width="9.41" height="10.17" fill="#4b91f3"/>
<rect x="415.00" y="453.59" width="9.41" height="10.17" fill="#3d67f1"/>
<rect x="423.91" y="453.59" width="9.41" height="10.17" fill="#4b91f3"/>
<rect x="432.81" y="453.59" width="9.41" height="10.17" fill="#3d67f1"/>
<rect x="441.72" y="453.59" width="9.41" height="10.17" fill="#4b91f3"/>
<rect x="450.64" y="453.59" width="9.41" height="10.17" fill="#4b91f3"/>
<rect x="459.55" y="453.59" width="9.41" height="10.17" fill="#4b91f3"/>
<rect x="468.45" y="453.59" width="9.41" height="10.17" fill="#2328f5"/>
<rect x="477.37" y="453.59" width="9.41" height="10.17" fill="#4b91f3"/>
<rect x="486.28" y="453.59" width="9.41" height="10.17" fill="#3d67f1"/>
<rect x="495.19" y="453.59" width="9.41" height="10.17" fill="#6eedfa"/>
<rect x="504.09" y="453.59" width="9.41" height="10.17" fill="#4b91f3"/>
<rect x="513.00" y="453.59" width="9.41" height="10.17" fill="#3d67f1"/>
<rect x="521.91" y="453.59" width="9.41" height="10.17" fill="#3d67f1"/>
<rect x="530.82" y="453.59" width="9.41" height="10.17" fill="#3d67f1"/>
<rect x="539.74" y="453.59" width="9.41" height="10.17" fill="#3d67f1"/>
<rect x="548.64" y="453.59" width="9.41" height="10.17" fill="#4b91f3"/>
<rect x="103.14" y="463.26" width="9.41" height="10.17" fill="#1e0af4"/>
<rect x="112.05" y="463.26" width="9.41" height="10.17" fill="#1e0af4"/>
<rect x="120.96" y="463.26" width="9.41" height="10.17" fill="#2328f5"/>
<rect x="129.87" y="463.26" width="9.41" height="10.17" fill="#1e0af4"/>
<rect x="138.78" y="463.26" width="9.41" height="10.17" fill="#2328f5"/>
<rect x="147.69" y="463.26" width="9.41" height="10.17" fill="#2328f5"/>
<rect x="156.60" y="463.26" width="9.41" height="10.17" fill="#1e0af4"/>
<rect x="165.51" y="463.26" width="9.41" height="10.17" fill="#2328f5"/>
<rect x="174.42" y="463.26" width="9.41" height="10.17" fill="#2328f5"/>
<rect x="183.33" y="463.26" width="9.41" height="10.17" fill="#1e0af4"/>
<rect x="192.24" y="463.26" width="9.41" height="10.17" fill="#1e0af4"/>
<rect x="201.16" y="463.26" width="9.41" height="10.17" fill="#2328f5"/>
<rect x="210.06" y="463.26" width="9.41" height="10.17" fill="#4b91f3"/>
<rect x="218.97" y="463.26" width="9.41" height="10.17" fill="#1e0af4"/>
<rect x="227.88" y="463.26" width="9.41" height="10.17" fill="#2328f5"/>
<rect x="236.79" y="463.26" width="9.41" height="10.17" fill="#3d67f1"/>
<rect x="245.70" y="463.26" width="9.41" height="10.17" fill="#3d67f1"/>
<rect x="254.61" y="463.26" width="9.41" height="10.17" fill="#1e0af4"/>
<rect x="263.53" y="463.26" width="9.41" height="10.17" fill="#1e0af4"/>
<rect x="272.44" y="463.26" width="9.41" height="10.17" fill="#1e0af4"/>
<rect x="281.34" y="463.26" width="9.41" height="10.17" fill="#2328f5"/>
<rect x="290.26" y="463.26" width="9.41" height="10.17" fill="#2328f5"/>
<rect x="299.17" y="463.26" width="9.41" height="10.17" fill="#3d67f1"/>
<rect x="308.07" y="463.26" width="9.41" height="10.17" fill="#3d67f1"/>
<rect x="316.99" y="463.26" width="9.41" height="10.17" fill="#3d67f1"/>
<rect x="325.90" y="463.26" width="9.41" height="10.17" fill="#3d67f1"/>
<rect x="334.81" y="463.26" width="9.41" height="10.17" fill="#1e0af4"/>
<rect x="343.71" y="463.26" width="9.41" height="10.17" fill="#1e0af4"/>
<rect x="352.63" y="463.26" width="9.41" height="10.17" fill="#3d67f1"/>
<rect x="361.54" y="463.26" width="9.41" height="10.17" fill="#3d67f1"/>
<rect x="370.44" y="463.26" width="9.41" height="10.17" fill="#2328f5"/>
<rect x="379.35" y="463.26" width="9.41" height="10.17" fill="#4b91f3"/>
<rect x="388.27" y="463.26" width="9.41" height="10.17" fill="#1e0af4"/>
<rect x="397.18" y="463.26" width="9.41" height="10.17" fill="#1e0af4"/>
<rect x="406.08" y="463.26" width="9.41" height="10.17" fill="#4b91f3"/>
<rect x="415.00" y="463.26" width="9.41" height="10.17" fill="#4b91f3"/>
<rect x="423.91" y="463.26" width="9.41" height="10.17" fill="#4b91f3"/>
<rect x="432.81" y="463.26" width="9.41" height="10.17" fill="#3d67f1"/>
<rect x="441.72" y="463.26" width="9.41" height="10.17" fill="#3d67f1"/>
<rect x="450.64" y="463.26" width="9.41" height="10.17" fill="#3d67f1"/>
<rect x="459.55" y="463.26" width="9.41" height="10.17" fill="#1e0af4"/>
<rect x="468.45" y="463.26" width="9.41" height="10.17" fill="#3d67f1"/>
<rect x="477.37" y="463.26" width="9.41" height="10.17" fill="#4b91f3"/>
<rect x="486.28" y="463.26" width="9.41" height="10.17" fill="#4b91f3"/>
<rect x="495.19" y="463.26" width="9.41" height="10.17" fill="#4b91f3"/>
<rect x="504.09" y="463.26" width="9.41" height="10.17" fill="#3d67f1"/>
<rect x="513.00" y="463.26" width="9.41" height="10.17" fill="#3d67f1"/>
<rect x="521.91" y="463.26" width="9.41" height="10.17" fill="#3d67f1"/>
<rect x="530.82" y="463.26" width="9.41" height="10.17" fill="#3d67f1"/>
<rect x="539.74" y="463.26" width="9.41" height="10.17" fill="#2328f5"/>
<rect x="548.64" y="463.26" width="9.41" height="10.17" fill="#3d67f1"/>
<rect x="103.14" y="472.94" width="9.41" height="10.17" fill="#1e0af4"/>
<rect x="112.05" y="472.94" width="9.41" height="10.17" fill="#1e0af4"/>
<rect x="120.96" y="472.94" width="9.41" height="10.17" fill="#1e0af4"/>
<rect x="129.87" y="472.94" width="9.41" height="10.17" fill="#1e0af4"/>
<rect x="138.78" y="472.94" width="9.41" height="10.17" fill="#1e0af4"/>
<rect x="147.69" y="472.94" width="9.41" height="10.17" fill="#3d67f1"/>
<rect x="156.60" y="472.94" width="9.41" height="10.17" fill="#1e0af4"/>
<rect x="165.51" y="472.94" width="9.41" height="10.17" fill="#3d67f1"/>
<rect x="174.42" y="472.94" width="9.41" height="10.17" fill="#3d67f1"/>
<rect x="183.33" y="472.94" width="9.41" height="10.17" fill="#1e0af4"/>
<rect x="192.24" y="472.94" width="9.41" height="10.17" fill="#1e0af4"/>
<rect x="201.16" y="472.94" width="9.41" height="10.17" fill="#2328f5"/>
<rect x="210.06" y="472.94" width="9.41" height="10.17" fill="#2328f5"/>
<rect x="218.97" y="472.94" width="9.41" height="10.17" fill="#2328f5"/>
<rect x="227.88" y="472.94" width="9.41" height="10.17" fill="#3d67f1"/>
<rect x="236.79" y="472.94" width="9.41" height="10.17" fill="#1e0af4"/>
<rect x="245.70" y="472.94" width="9.41" height="10.17" fill="#3d67f1"/>
<rect x="254.61" y="472.94" width="9.41" height="10.17" fill="#3d67f1"/>
<rect x="263.53" y="472.94" width="9.41" height="10.17" fill="#3d67f1"/>
<rect x="272.44" y="472.94" width="9.41" height="10.17" fill="#3d67f1"/>
<rect x="281.34" y="472.94" width="9.41" height="10.17" fill="#3d67f1"/>
<rect x="290.26" y="472.94" width="9.41" height="10.17" fill="#3d67f1"/>
<rect x="299.17" y="472.94" width="9.41" height="10.17" fill="#2328f5"/>
<rect x="308.07" y="472.94" width="9.41" height="10.17" fill="#1e0af4"/>
<rect x="316.99" y="472.94" width="9.41" height="10.17" fill="#3d67f1"/>
<rect x="325.90" y="472.94" width="9.41" height="10.17" fill="#2328f5"/>
<rect x="334.81" y="472.94" width="9.41" height="10.17" fill="#3d67f1"/>
<rect x="343.71" y="472.94" width="9.41" height="10.17" fill="#4b91f3"/>
<rect x="352.63" y="472.94" width="9.41" height="10.17" fill="#2328f5"/>
<rect x="361.54" y="472.94" width="9.41" height="10.17" fill="#3d67f1"/>
<rect x="370.44" y="472.94" width="9.41" height="10.17" fill="#2328f5"/>
<rect x="379.35" y="472.94" width="9.41" height="10.17" fill="#2328f5"/>
<rect x="388.27" y="472.94" width="9.41" height="10.17" fill="#3d67f1"/>
<rect x="397.18" y="472.94" width="9.41" height="10.17" fill="#4b91f3"/>
<rect x="406.08" y="472.94" width="9.41" height="10.17" fill="#1e0af4"/>
<rect x="415.00" y="472.94" width="9.41" height="10.17" fill="#3d67f1"/>
<rect x="423.91" y="472.94" width="9.41" height="10.17" fill="#4b91f3"/>
<rect x="432.81" y="472.94" width="9.41" height="10.17" fill="#4b91f3"/>
<rect x="441.72" y="472.94" width="9.41" height="10.17" fill="#4b91f3"/>
<rect x="450.64" y="472.94" width="9.41" height="10.17" fill="#3d67f1"/>
<rect x="459.55" y="472.94" width="9.41" height="10.17" fill="#3d67f1"/>
<rect x="468.45" y="472.94" width="9.41" height="10.17" fill="#2328f5"/>
<rect x="477.37" y="472.94" width="9.41" height="10.17" fill="#3d67f1"/>
<rect x="486.28" y="472.94" width="9.41" height="10.17" fill="#3d67f1"/>
<rect x="495.19" y="472.94" width="9.41" height="10.17" fill="#2328f5"/>
<rect x="504.09" y="472.94" width="9.41" height="10.17" fill="#4b91f3"/>
<rect x="513.00" y="472.94" width="9.41" height="10.17" fill="#4b91f3"/>
<rect x="521.91" y="472.94" width="9.41" height="10.17" fill="#2328f5"/>
<rect x="530.82" y="472.94" width="9.41" height="10.17" fill="#1e0af4"/>
<rect x="539.74" y="472.94" width="9.41" height="10.17" fill="#4b91f3"/>
<rect x="548.64" y="472.94" width="9.41" height="10.17" fill="#4b91f3"/>
<rect x="103.14" y="482.60" width="9.41" height="10.17" fill="#1e0af4"/>
<rect x="112.05" y="482.60" width="9.41" height="10.17" fill="#1e0af4"/>
<rect x="120.96" y="482.60" width="9.41" height="10.17" fill="#1e0af4"/>
<rect x="129.87" y="482.60" width="9.41" height="10.17" fill="#1e0af4"/>
<rect x="138.78" y="482.60" width="9.41" height="10.17" fill="#3d67f1"/>
<rect x="147.69" y="482.60" width="9.41" height="10.17" fill="#3d67f1"/>
<rect x="156.60" y="482.60" width="9.41" height="10.17" fill="#4b91f3"/>
<rect x="165.51" y="482.60" width="9.41" height="10.17" fill="#3d67f1"/>
<rect x="174.42" y="482.60" width="9.41" height="10.17" fill="#3d67f1"/>
<rect x="183.33" y="482.60" width="9.41" height="10.17" fill="#3d67f1"/>
<rect x="192.24" y="482.60" width="9.41" height="10.17" fill="#2328f5"/>
<rect x="201.16" y="482.60" width="9.41" height="10.17" fill="#2328f5"/>
<rect x="210.06" y="482.60" width="9.41" height="10.17" fill="#1e0af4"/>
<rect x="218.97" y="482.60" width="9.41" height="10.17" fill="#3d67f1"/>
<rect x="227.88" y="482.60" width="9.41" height="10.17" fill="#4b91f3"/>
<rect x="236.79" y="482.60" width="9.41" height="10.17" fill="#4b91f3"/>
<rect x="245.70" y="482.60" width="9.41" height="10.17" fill="#4b91f3"/>
<rect x="254.61" y="482.60" width="9.41" height="10.17" fill="#4b91f3"/>
<rect x="263.53" y="482.60" width="9.41" height="10.17" fill="#3d67f1"/>
<rect x="272.44" y="482.60" width="9.41" height="10.17" fill="#4b91f3"/>
<rect x="281.34" y="482.60" width="9.41" height="10.17" fill="#4b91f3"/>
<rect x="290.26" y="482.60" width="9.41" height="10.17" fill="#3d67f1"/>
<rect x="299.17" y="482.60" width="9.41" height="10.17" fill="#2328f5"/>
<rect x="308.07" y="482.60" width="9.41" height="10.17" fill="#1e0af4"/>
<rect x="316.99" y="482.60" width="9.41" height="10.17" fill="#4b91f3"/>
<rect x="325.90" y="482.60" width="9.41" height="10.17" fill="#3d67f1"/>
<rect x="334.81" y="482.60" width="9.41" height="10.17" fill="#4b91f3"/>
<rect x="343.71" y="482.60" width="9.41" height="10.17" fill="#2328f5"/>
<rect x="352.63" y="482.60" width="9.41" height="10.17" fill="#3d67f1"/>
<rect x="361.54" y="482.60" width="9.41" height="10.17" fill="#4b91f3"/>
<rect x="370.44" y="482.60" width="9.41" height="10.17" fill="#4b91f3"/>
<rect x="379.35" y="482.60" width="9.41" height="10.17" fill="#4b91f3"/>
<rect x="388.27" y="482.60" width="9.41" height="10.17" fill="#4b91f3"/>
<rect x="397.18" y="482.60" width="9.41" height="10.17" fill="#3d67f1"/>
<rect x="406.08" y="482.60" width="9.41" height="10.17" fill="#3d67f1"/>
<rect x="415.00" y="482.60" width="9.41" height="10.17" fill="#4b91f3"/>
<rect x="423.91" y="482.60" width="9.41" height="10.17" fill="#1e0af4"/>
<rect x="432.81" y="482.60" width="9.41" height="10.17" fill="#4b91f3"/>
<rect x="441.72" y="482.60" width="9.41" height="10.17" fill="#3d67f1"/>
<rect x="450.64" y="482.60" width="9.41" height="10.17" fill="#4b91f3"/>
<rect x="459.55" y="482.60" width="9.41" height="10.17" fill="#4b91f3"/>
<rect x="468.45" y="482.60" width="9.41" height="10.17" fill="#1e0af4"/>
<rect x="477.37" y="482.60" width="9.41" height="10.17" fill="#3d67f1"/>
<rect x="486.28" y="482.60" width="9.41" height="10.17" fill="#4b91f3"/>
<rect x="495.19" y="482.60" width="9.41" height="10.17" fill="#4b91f3"/>
<rect x="504.09" y="482.60" width="9.41" height="10.17" fill="#2328f5"/>
<rect x="513.00" y="482.60" width="9.41" height="10.17" fill="#3d67f1"/>
<rect x="521.91" y="482.60" width="9.41" height="10.17" fill="#3d67f1"/>
<rect x="530.82" y="482.60" width="9.41" height="10.17" fill="#3d67f1"/>
<rect x="539.74" y="482.60" width="9.41" height="10.17" fill="#6eedfa"/>
<rect x="548.64" y="482.60" width="9.41" height="10.17" fill="#3d67f1"/>
<rect x="103.14" y="492.27" width="9.41" height="10.17" fill="#1e0af4"/>
<rect x="112.05" y="492.27" width="9.41" height="10.17" fill="#1e0af4"/>
<rect x="120.96" y="492.27" width="9.41" height="10.17" fill="#2328f5"/>
<rect x="129.87" y="492.27" width="9.41" height="10.17" fill="#3d67f1"/>
<rect x="138.78" y="492.27" width="9.41" height="10.17" fill="#4b91f3"/>
<rect x="147.69" y="492.27" width="9.41" height="10.17" fill="#4b91f3"/>
<rect x="156.60" y="492.27" width="9.41" height="10.17" fill="#4b91f3"/>
<rect x="165.51" y="492.27" width="9.41" height="10.17" fill="#6eedfa"/>
<rect x="174.42" y="492.27" width="9.41" height="10.17" fill="#4b91f3"/>
<rect x="183.33" y="492.27" width="9.41" height="10.17" fill="#4b91f3"/>
<rect x="192.24" y="492.27" width="9.41" height="10.17" fill="#3d67f1"/>
<rect x="201.16" y="492.27" width="9.41" height="10.17" fill="#3d67f1"/>
<rect x="210.06" y="492.27" width="9.41" height="10.17" fill="#3d67f1"/>
<rect x="218.97" y="492.27" width="9.41" height="10.17" fill="#3d67f1"/>
<rect x="227.88" y="492.27" width="9.41" height="10.17" fill="#4b91f3"/>
<rect x="236.79" y="492.27" width="9.41" height="10.17" fill="#4b91f3"/>
<rect x="245.70" y="492.27" width="9.41" height="10.17" fill="#3d67f1"/>
<rect x="254.61" y="492.27" width="9.41" height="10.17" fill="#6eedfa"/>
<rect x="263.53" y="492.27" width="9.41" height="10.17" fill="#4b91f3"/>
<rect x="272.44" y="492.27" width="9.41" height="10.17" fill="#4b91f3"/>
<rect x="281.34" y="492.27" width="9.41" height="10.17" fill="#4b91f3"/>
<rect x="290.26" y="492.27" width="9.41" height="10.17" fill="#3d67f1"/>
<rect x="299.17" y="492.27" width="9.41" height="10.17" fill="#3d67f1"/>
<rect x="308.07" y="492.27" width="9.41" height="10.17" fill="#1e0af4"/>
<rect x="316.99" y="492.27" width="9.41" height="10.17" fill="#4b91f3"/>
<rect x="325.90" y="492.27" width="9.41" height="10.17" fill="#4b91f3"/>
<rect x="334.81" y="492.27" width="9.41" height="10.17" fill="#6eedfa"/>
<rect x="343.71" y="492.27" width="9.41" height="10.17" fill="#4b91f3"/>
<rect x="352.63" y="492.27" width="9.41" height="10.17" fill="#4b91f3"/>
<rect x="361.54" y="492.27" width="9.41" height="10.17" fill="#4b91f3"/>
<rect x="370.44" y="492.27" width="9.41" height="10.17" fill="#4b91f3"/>
<rect x="379.35" y="492.27" width="9.41" height="10.17" fill="#4b91f3"/>
<rect x="388.27" y="492.27" width="9.41" height="10.17" fill="#3d67f1"/>
<rect x="397.18" y="492.27" width="9.41" height="10.17" fill="#3d67f1"/>
<rect x="406.08" y="492.27" width="9.41" height="10.17" fill="#3d67f1"/>
<rect x="415.00" y="492.27" width="9.41" height="10.17" fill="#2328f5"/>
<rect x="423.91" y="492.27" width="9.41" height="10.17" fill="#4b91f3"/>
<rect x="432.81" y="492.27" width="9.41" height="10.17" fill="#3d67f1"/>
<rect x="441.72" y="492.27" width="9.41" height="10.17" fill="#4b91f3"/>
<rect x="450.64" y="492.27" width="9.41" height="10.17" fill="#3d67f1"/>
<rect x="459.55" y="492.27" width="9.41" height="10.17" fill="#3d67f1"/>
<rect x="468.45" y="492.27" width="9.41" height="10.17" fill="#4b91f3"/>
<rect x="477.37" y="492.27" width="9.41" height="10.17" fill="#4b91f3"/>
<rect x="486.28" y="492.27" width="9.41" height="10.17" fill="#4b91f3"/>
<rect x="495.19" y="492.27" width="9.41" height="10.17" fill="#4b91f3"/>
<rect x="504.09" y="492.27" width="9.41" height="10.17" fill="#4b91f3"/>
<rect x="513.00" y="492.27" width="9.41" height="10.17" fill="#2328f5"/>
<rect x="521.91" y="492.27" width="9.41" height="10.17" fill="#4b91f3"/>
<rect x="530.82" y="492.27" width="9.41" height="10.17" fill="#4b91f3"/>
<rect x="539.74" y="492.27" width="9.41" height="10.17" fill="#4b91f3"/>
<rect x="548.64" y="492.27" width="9.41" height="10.17" fill="#6eedfa"/>
<rect x="103.14" y="501.94" width="9.41" height="10.17" fill="#4b91f3"/>
<rect x="112.05" y="501.94" width="9.41" height="10.17" fill="#4b91f3"/>
<rect x="120.96" y="501.94" width="9.41" height="10.17" fill="#4b91f3"/>
<rect x="129.87" y="501.94" width="9.41" height="10.17" fill="#6eedfa"/>
<rect x="138.78" y="501.94" width="9.41" height="10.17" fill="#71f5e3"/>
<rect x="147.69" y="501.94" width="9.41" height="10.17" fill="#71f5e3"/>
<rect x="156.60" y="501.94" width="9.41" height="10.17" fill="#71f5e3"/>
<rect x="165.51" y="501.94" width="9.41" height="10.17" fill="#6eedfa"/>
<rect x="174.42" y="501.94" width="9.41" height="10.17" fill="#71f5e3"/>
<rect x="183.33" y="501.94" width="9.41" height="10.17" fill="#6eedfa"/>
<rect x="192.24" y="501.94" width="9.41" height="10.17" fill="#6eedfa"/>
<rect x="201.16" y="501.94" width="9.41" height="10.17" fill="#4b91f3"/>
<rect x="210.06" y="501.94" width="9.41" height="10.17" fill="#6eedfa"/>
<rect x="218.97" y="501.94" width="9.41" height="10.17" fill="#3d67f1"/>
<rect x="227.88" y="501.94" width="9.41" height="10.17" fill="#6eedfa"/>
<rect x="236.79" y="501.94" width="9.41" height="10.17" fill="#4b91f3"/>
<rect x="245.70" y="501.94" width="9.41" height="10.17" fill="#71f5e3"/>
<rect x="254.61" y="501.94" width="9.41" height="10.17" fill="#71f5e3"/>
<rect x="263.53" y="501.94" width="9.41" height="10.17" fill="#6eedfa"/>
<rect x="272.44" y="501.94" width="9.41" height="10.17" fill="#6eedfa"/>
<rect x="281.34" y="501.94" width="9.41" height="10.17" fill="#6eedfa"/>
<rect x="290.26" y="501.94" width="9.41" height="10.17" fill="#6eedfa"/>
<rect x="299.17" y="501.94" width="9.41" height="10.17" fill="#4b91f3"/>
<rect x="308.07" y="501.94" width="9.41" height="10.17" fill="#4b91f3"/>
<rect x="316.99" y="501.94" width="9.41" height="10.17" fill="#6eedfa"/>
<rect x="325.90" y="501.94" width="9.41" height="10.17" fill="#4b91f3"/>
<rect x="334.81" y="501.94" width="9.41" height="10.17" fill="#4b91f3"/>
<rect x="343.71" y="501.94" width="9.41" height="10.17" fill="#6eedfa"/>
<rect x="352.63" y="501.94" width="9.41" height="10.17" fill="#71f5e3"/>
<rect x="361.54" y="501.94" width="9.41" height="10.17" fill="#6eedfa"/>
<rect x="370.44" y="501.94" width="9.41" height="10.17" fill="#4b91f3"/>
<rect x="379.35" y="501.94" width="9.41" height="10.17" fill="#4b91f3"/>
<rect x="388.27" y="501.94" width="9.41" height="10.17" fill="#4b91f3"/>
<rect x="397.18" y="501.94" width="9.41" height="10.17" fill="#6eedfa"/>
<rect x="406.08" y="501.94" width="9.41" height="10.17" fill="#4b91f3"/>
<rect x="415.00" y="501.94" width="9.41" height="10.17" fill="#3d67f1"/>
<rect x="423.91" y="501.94" width="9.41" height="10.17" fill="#4b91f3"/>
<rect x="432.81" y="501.94" width="9.41" height="10.17" fill="#6eedfa"/>
<rect x="441.72" y="501.94" width="9.41" height="10.17" fill="#6eedfa"/>
<rect x="450.64" y="501.94" width="9.41" height="10.17" fill="#6eedfa"/>
<rect x="459.55" y="501.94" width="9.41" height="10.17" fill="#4b91f3"/>
<rect x="468.45" y="501.94" width="9.41" height="10.17" fill="#6eedfa"/>
<rect x="477.37" y="501.94" width="9.41" height="10.17" fill="#4b91f3"/>
<rect x="486.28" y="501.94" width="9.41" height="10.17" fill="#4b91f3"/>
<rect x="495.19" y="501.94" width="9.41" height="10.17" fill="#6eedfa"/>
<rect x="504.09" y="501.94" width="9.41" height="10.17" fill="#4b91f3"/>
<rect x="513.00" y="501.94" width="9.41" height="10.17" fill="#4b91f3"/>
<rect x="521.91" y="501.94" width="9.41" height="10.17" fill="#6eedfa"/>
<rect x="530.82" y="501.94" width="9.41" height="10.17" fill="#6eedfa"/>
<rect x="539.74" y="501.94" width="9.41" height="10.17" fill="#3d67f1"/>
<rect x="548.64" y="501.94" width="9.41" height="10.17" fill="#6eedfa"/>
<rect x="103.14" y="511.61" width="9.41" height="10.17" fill="#7cf2a3"/>
<rect x="112.05" y="511.61" width="9.41" height="10.17" fill="#71f5e3"/>
<rect x="120.96" y="511.61" width="9.41" height="10.17" fill="#71f5e3"/>
<rect x="129.87" y="511.61" width="9.41" height="10.17" fill="#a2f56b"/>
<rect x="138.78" y="511.61" width="9.41" height="10.17" fill="#7cf2a3"/>
<rect x="147.69" y="511.61" width="9.41" height="10.17" fill="#7cf2a3"/>
<rect x="156.60" y="511.61" width="9.41" height="10.17" fill="#a2f56b"/>
<rect x="165.51" y="511.61" width="9.41" height="10.17" fill="#a2f56b"/>
<rect x="174.42" y="511.61" width="9.41" height="10.17" fill="#7cf2a3"/>
<rect x="183.33" y="511.61" width="9.41" height="10.17" fill="#7cf2a3"/>
<rect x="192.24" y="511.61" width="9.41" height="10.17" fill="#7cf2a3"/>
<rect x="201.16" y="511.61" width="9.41" height="10.17" fill="#6eedfa"/>
<rect x="210.06" y="511.61" width="9.41" height="10.17" fill="#6eedfa"/>
<rect x="218.97" y="511.61" width="9.41" height="10.17" fill="#71f5e3"/>
<rect x="227.88" y="511.61" width="9.41" height="10.17" fill="#71f5e3"/>
<rect x="236.79" y="511.61" width="9.41" height="10.17" fill="#6eedfa"/>
<rect x="245.70" y="511.61" width="9.41" height="10.17" fill="#7cf2a3"/>
<rect x="254.61" y="511.61" width="9.41" height="10.17" fill="#71f5e3"/>
<rect x="263.53" y="511.61" width="9.41" height="10.17" fill="#71f5e3"/>
<rect x="272.44" y="511.61" width="9.41" height="10.17" fill="#a2f56b"/>
<rect x="281.34" y="511.61" width="9.41" height="10.17" fill="#6eedfa"/>
<rect x="290.26" y="511.61" width="9.41" height="10.17" fill="#6eedfa"/>
<rect x="299.17" y="511.61" width="9.41" height="10.17" fill="#6eedfa"/>
<rect x="308.07" y="511.61" width="9.41" height="10.17" fill="#6eedfa"/>
<rect x="316.99" y="511.61" width="9.41" height="10.17" fill="#6eedfa"/>
<rect x="325.90" y="511.61" width="9.41" height="10.17" fill="#6eedfa"/>
<rect x="334.81" y="511.61" width="9.41" height="10.17" fill="#6eedfa"/>
<rect x="343.71" y="511.61" width="9.41" height="10.17" fill="#71f5e3"/>
<rect x="352.63" y="511.61" width="9.41" height="10.17" fill="#71f5e3"/>
<rect x="361.54" y="511.61" width="9.41" height="10.17" fill="#71f5e3"/>
<rect x="370.44" y="511.61" width="9.41" height="10.17" fill="#71f5e3"/>
<rect x="379.35" y="511.61" width="9.41" height="10.17" fill="#6eedfa"/>
<rect x="388.27" y="511.61" width="9.41" height="10.17" fill="#6eedfa"/>
<rect x="397.18" y="511.61" width="9.41" height="10.17" fill="#6eedfa"/>
<rect x="406.08" y="511.61" width="9.41" height="10.17" fill="#6eedfa"/>
<rect x="415.00" y="511.61" width="9.41" height="10.17" fill="#6eedfa"/>
<rect x="423.91" y="511.61" width="9.41" height="10.17" fill="#6eedfa"/>
<rect x="432.81" y="511.61" width="9.41" height="10.17" fill="#6eedfa"/>
<rect x="441.72" y="511.61" width="9.41" height="10.17" fill="#7cf2a3"/>
<rect x="450.64" y="511.61" width="9.41" height="10.17" fill="#71f5e3"/>
<rect x="459.55" y="511.61" width="9.41" height="10.17" fill="#71f5e3"/>
<rect x="468.45" y="511.61" width="9.41" height="10.17" fill="#6eedfa"/>
<rect x="477.37" y="511.61" width="9.41" height="10.17" fill="#71f5e3"/>
<rect x="486.28" y="511.61" width="9.41" height="10.17" fill="#4b91f3"/>
<rect x="495.19" y="511.61" width="9.41" height="10.17" fill="#6eedfa"/>
<rect x="504.09" y="511.61" width="9.41" height="10.17" fill="#6eedfa"/>
<rect x="513.00" y="511.61" width="9.41" height="10.17" fill="#6eedfa"/>
<rect x="521.91" y="511.61" width="9.41" height="10.17" fill="#4b91f3"/>
<rect x="530.82" y="511.61" width="9.41" height="10.17" fill="#71f5e3"/>
<rect x="539.74" y="511.61" width="9.41" height="10.17" fill="#6eedfa"/>
<rect x="548.64" y="511.61" width="9.41" height="10.17" fill="#71f5e3"/>
<rect x="103.14" y="521.28" width="9.41" height="10.17" fill="#caf544"/>
<rect x="112.05" y="521.28" width="9.41" height="10.17" fill="#a2f56b"/>
<rect x="120.96" y="521.28" width="9.41" height="10.17" fill="#a2f56b"/>
<rect x="129.87" y="521.28" width="9.41" height="10.17" fill="#a2f56b"/>
<rect x="138.78" y="521.28" width="9.41" height="10.17" fill="#caf544"/>
<rect x="147.69" y="521.28" width="9.41" height="10.17" fill="#caf544"/>
<rect x="156.60" y="521.28" width="9.41" height="10.17" fill="#a2f56b"/>
<rect x="165.51" y="521.28" width="9.41" height="10.17" fill="#caf544"/>
<rect x="174.42" y="521.28" width="9.41" height="10.17" fill="#a2f56b"/>
<rect x="183.33" y="521.28" width="9.41" height="10.17" fill="#a2f56b"/>
<rect x="192.24" y="521.28" width="9.41" height="10.17" fill="#7cf2a3"/>
<rect x="201.16" y="521.28" width="9.41" height="10.17" fill="#7cf2a3"/>
<rect x="210.06" y="521.28" width="9.41" height="10.17" fill="#a2f56b"/>
<rect x="218.97" y="521.28" width="9.41" height="10.17" fill="#7cf2a3"/>
<rect x="227.88" y="521.28" width="9.41" height="10.17" fill="#7cf2a3"/>
<rect x="236.79" y="521.28" width="9.41" height="10.17" fill="#7cf2a3"/>
<rect x="245.70" y="521.28" width="9.41" height="10.17" fill="#7cf2a3"/>
<rect x="254.61" y="521.28" width="9.41" height="10.17" fill="#a2f56b"/>
<rect x="263.53" y="521.28" width="9.41" height="10.17" fill="#a2f56b"/>
<rect x="272.44" y="521.28" width="9.41" height="10.17" fill="#caf544"/>
<rect x="281.34" y="521.28" width="9.41" height="10.17" fill="#a2f56b"/>
<rect x="290.26" y="521.28" width="9.41" height="10.17" fill="#71f5e3"/>
<rect x="299.17" y="521.28" width="9.41" height="10.17" fill="#7cf2a3"/>
<rect x="308.07" y="521.28" width="9.41" height="10.17" fill="#7cf2a3"/>
<rect x="316.99" y="521.28" width="9.41" height="10.17" fill="#71f5e3"/>
<rect x="325.90" y="521.28" width="9.41" height="10.17" fill="#71f5e3"/>
<rect x="334.81" y="521.28" width="9.41" height="10.17" fill="#71f5e3"/>
<rect x="343.71" y="521.28" width="9.41" height="10.17" fill="#7cf2a3"/>
<rect x="352.63" y="521.28" width="9.41" height="10.17" fill="#7cf2a3"/>
<rect x="361.54" y="521.28" width="9.41" height="10.17" fill="#7cf2a3"/>
<rect x="370.44" y="521.28" width="9.41" height="10.17" fill="#a2f56b"/>
<rect x="379.35" y="521.28" width="9.41" height="10.17" fill="#71f5e3"/>
<rect x="388.27" y="521.28" width="9.41" height="10.17" fill="#71f5e3"/>
<rect x="397.18" y="521.28" width="9.41" height="10.17" fill="#a2f56b"/>
<rect x="406.08" y="521.28" width="9.41" height="10.17" fill="#7cf2a3"/>
<rect x="415.00" y="521.28" width="9.41" height="10.17" fill="#6eedfa"/>
<rect x="423.91" y="521.28" width="9.41" height="10.17" fill="#7cf2a3"/>
<rect x="432.81" y="521.28" width="9.41" height="10.17" fill="#a2f56b"/>
<rect x="441.72" y="521.28" width="9.41" height="10.17" fill="#a2f56b"/>
<rect x="450.64" y="521.28" width="9.41" height="10.17" fill="#a2f56b"/>
<rect x="459.55" y="521.28" width="9.41" height="10.17" fill="#7cf2a3"/>
<rect x="468.45" y="521.28" width="9.41" height="10.17" fill="#6eedfa"/>
<rect x="477.37" y="521.28" width="9.41" height="10.17" fill="#a2f56b"/>
<rect x="486.28" y="521.28" width="9.41" height="10.17" fill="#6eedfa"/>
<rect x="495.19" y="521.28" width="9.41" height="10.17" fill="#6eedfa"/>
<rect x="504.09" y="521.28" width="9.41" height="10.17" fill="#6eedfa"/>
<rect x="513.00" y="521.28" width="9.41" height="10.17" fill="#7cf2a3"/>
<rect x="521.91" y="521.28" width="9.41" height="10.17" fill="#7cf2a3"/>
<rect x="530.82" y="521.28" width="9.41" height="10.17" fill="#6eedfa"/>
<rect x="539.74" y="521.28" width="9.41" height="10.17" fill="#6eedfa"/>
<rect x="548.64" y="521.28" width="9.41" height="10.17" fill="#7cf2a3"/>
<rect x="103.14" y="530.95" width="9.41" height="10.17" fill="#f06423"/>
<rect x="112.05" y="530.95" width="9.41" height="10.17" fill="#f4ed3b"/>
<rect x="120.96" y="530.95" width="9.41" height="10.17" fill="#caf544"/>
<rect x="129.87" y="530.95" width="9.41" height="10.17" fill="#caf544"/>
<rect x="138.78" y="530.95" width="9.41" height="10.17" fill="#caf544"/>
<rect x="147.69" y="530.95" width="9.41" height="10.17" fill="#f4ed3b"/>
<rect x="156.60" y="530.95" width="9.41" height="10.17" fill="#f4ed3b"/>
<rect x="165.51" y="530.95" width="9.41" height="10.17" fill="#caf544"/>
<rect x="174.42" y="530.95" width="9.41" height="10.17" fill="#f4ed3b"/>
<rect x="183.33" y="530.95" width="9.41" height="10.17" fill="#eec436"/>
<rect x="192.24" y="530.95" width="9.41" height="10.17" fill="#a2f56b"/>
<rect x="201.16" y="530.95" width="9.41" height="10.17" fill="#a2f56b"/>
<rect x="210.06" y="530.95" width="9.41" height="10.17" fill="#caf544"/>
<rect x="218.97" y="530.95" width="9.41" height="10.17" fill="#a2f56b"/>
<rect x="227.88" y="530.95" width="9.41" height="10.17" fill="#a2f56b"/>
<rect x="236.79" y="530.95" width="9.41" height="10.17" fill="#a2f56b"/>
<rect x="245.70" y="530.95" width="9.41" height="10.17" fill="#caf544"/>
<rect x="254.61" y="530.95" width="9.41" height="10.17" fill="#caf544"/>
<rect x="263.53" y="530.95" width="9.41" height="10.17" fill="#caf544"/>
<rect x="272.44" y="530.95" width="9.41" height="10.17" fill="#a2f56b"/>
<rect x="281.34" y="530.95" width="9.41" height="10.17" fill="#a2f56b"/>
<rect x="290.26" y="530.95" width="9.41" height="10.17" fill="#7cf2a3"/>
<rect x="299.17" y="530.95" width="9.41" height="10.17" fill="#caf544"/>
<rect x="308.07" y="530.95" width="9.41" height="10.17" fill="#a2f56b"/>
<rect x="316.99" y="530.95" width="9.41" height="10.17" fill="#7cf2a3"/>
<rect x="325.90" y="530.95" width="9.41" height="10.17" fill="#7cf2a3"/>
<rect x="334.81" y="530.95" width="9.41" height="10.17" fill="#a2f56b"/>
<rect x="343.71" y="530.95" width="9.41" height="10.17" fill="#caf544"/>
<rect x="352.63" y="530.95" width="9.41" height="10.17" fill="#caf544"/>
<rect x="361.54" y="530.95" width="9.41" height="10.17" fill="#caf544"/>
<rect x="370.44" y="530.95" width="9.41" height="10.17" fill="#a2f56b"/>
<rect x="379.35" y="530.95" width="9.41" height="10.17" fill="#a2f56b"/>
<rect x="388.27" y="530.95" width="9.41" height="10.17" fill="#a2f56b"/>
<rect x="397.18" y="530.95" width="9.41" height="10.17" fill="#a2f56b"/>
<rect x="406.08" y="530.95" width="9.41" height="10.17" fill="#7cf2a3"/>
<rect x="415.00" y="530.95" width="9.41" height="10.17" fill="#71f5e3"/>
<rect x="423.91" y="530.95" width="9.41" height="10.17" fill="#7cf2a3"/>
<rect x="432.81" y="530.95" width="9.41" height="10.17" fill="#a2f56b"/>
<rect x="441.72" y="530.95" width="9.41" height="10.17" fill="#a2f56b"/>
<rect x="450.64" y="530.95" width="9.41" height="10.17" fill="#a2f56b"/>
<rect x="459.55" y="530.95" width="9.41" height="10.17" fill="#7cf2a3"/>
<rect x="468.45" y="530.95" width="9.41" height="10.17" fill="#a2f56b"/>
<rect x="477.37" y="530.95" width="9.41" height="10.17" fill="#71f5e3"/>
<rect x="486.28" y="530.95" width="9.41" height="10.17" fill="#a2f56b"/>
<rect x="495.19" y="530.95" width="9.41" height="10.17" fill="#7cf2a3"/>
<rect x="504.09" y="530.95" width="9.41" height="10.17" fill="#a2f56b"/>
<rect x="513.00" y="530.95" width="9.41" height="10.17" fill="#7cf2a3"/>
<rect x="521.91" y="530.95" width="9.41" height="10.17" fill="#6eedfa"/>
<rect x="530.82" y="530.95" width="9.41" height="10.17" fill="#7cf2a3"/>
<rect x="539.74" y="530.95" width="9.41" height="10.17" fill="#a2f56b"/>
<rect x="548.64" y="530.95" width="9.41" height="10.17" fill="#6eedfa"/>
<rect x="103.14" y="540.62" width="9.41" height="10.17" fill="#f72a16"/>
<rect x="112.05" y="540.62" width="9.41" height="10.17" fill="#f06423"/>
<rect x="120.96" y="540.62" width="9.41" height="10.17" fill="#eec436"/>
<rect x="129.87" y="540.62" width="9.41" height="10.17" fill="#eec436"/>
<rect x="138.78" y="540.62" width="9.41" height="10.17" fill="#f06423"/>
<rect x="147.69" y="540.62" width="9.41" height="10.17" fill="#eec436"/>
<rect x="156.60" y="540.62" width="9.41" height="10.17" fill="#f4ed3b"/>
<rect x="165.51" y="540.62" width="9.41" height="10.17" fill="#eec436"/>
<rect x="174.42" y="540.62" width="9.41" height="10.17" fill="#f4ed3b"/>
<rect x="183.33" y="540.62" width="9.41" height="10.17" fill="#f4ed3b"/>
<rect x="192.24" y="540.62" width="9.41" height="10.17" fill="#eec436"/>
<rect x="201.16" y="540.62" width="9.41" height="10.17" fill="#f4ed3b"/>
<rect x="210.06" y="540.62" width="9.41" height="10.17" fill="#caf544"/>
<rect x="218.97" y="540.62" width="9.41" height="10.17" fill="#eec436"/>
<rect x="227.88" y="540.62" width="9.41" height="10.17" fill="#caf544"/>
<rect x="236.79" y="540.62" width="9.41" height="10.17" fill="#caf544"/>
<rect x="245.70" y="540.62" width="9.41" height="10.17" fill="#caf544"/>
<rect x="254.61" y="540.62" width="9.41" height="10.17" fill="#caf544"/>
<rect x="263.53" y="540.62" width="9.41" height="10.17" fill="#f4ed3b"/>
<rect x="272.44" y="540.62" width="9.41" height="10.17" fill="#caf544"/>
<rect x="281.34" y="540.62" width="9.41" height="10.17" fill="#caf544"/>
<rect x="290.26" y="540.62" width="9.41" height="10.17" fill="#f4ed3b"/>
<rect x="299.17" y="540.62" width="9.41" height="10.17" fill="#a2f56b"/>
<rect x="308.07" y="540.62" width="9.41" height="10.17" fill="#a2f56b"/>
<rect x="316.99" y="540.62" width="9.41" height="10.17" fill="#a2f56b"/>
<rect x="325.90" y="540.62" width="9.41" height="10.17" fill="#7cf2a3"/>
<rect x="334.81" y="540.62" width="9.41" height="10.17" fill="#caf544"/>
<rect x="343.71" y="540.62" width="9.41" height="10.17" fill="#7cf2a3"/>
<rect x="352.63" y="540.62" width="9.41" height="10.17" fill="#caf544"/>
<rect x="361.54" y="540.62" width="9.41" height="10.17" fill="#caf544"/>
<rect x="370.44" y="540.62" width="9.41" height="10.17" fill="#caf544"/>
<rect x="379.35" y="540.62" width="9.41" height="10.17" fill="#caf544"/>
<rect x="388.27" y="540.62" width="9.41" height="10.17" fill="#caf544"/>
<rect x="397.18" y="540.62" width="9.41" height="10.17" fill="#caf544"/>
<rect x="406.08" y="540.62" width="9.41" height="10.17" fill="#a2f56b"/>
<rect x="415.00" y="540.62" width="9.41" height="10.17" fill="#a2f56b"/>
<rect x="423.91" y="540.62" width="9.41" height="10.17" fill="#a2f56b"/>
<rect x="432.81" y="540.62" width="9.41" height="10.17" fill="#7cf2a3"/>
<rect x="441.72" y="540.62" width="9.41" height="10.17" fill="#caf544"/>
<rect x="450.64" y="540.62" width="9.41" height="10.17" fill="#caf544"/>
<rect x="459.55" y="540.62" width="9.41" height="10.17" fill="#caf544"/>
<rect x="468.45" y="540.62" width="9.41" height="10.17" fill="#a2f56b"/>
<rect x="477.37" y="540.62" width="9.41" height="10.17" fill="#a2f56b"/>
<rect x="486.28" y="540.62" width="9.41" height="10.17" fill="#a2f56b"/>
<rect x="495.19" y="540.62" width="9.41" height="10.17" fill="#7cf2a3"/>
<rect x="504.09" y="540.62" width="9.41" height="10.17" fill="#7cf2a3"/>
<rect x="513.00" y="540.62" width="9.41" height="10.17" fill="#caf544"/>
<rect x="521.91" y="540.62" width="9.41" height="10.17" fill="#6eedfa"/>
<rect x="530.82" y="540.62" width="9.41" height="10.17" fill="#7cf2a3"/>
<rect x="539.74" y="540.62" width="9.41" height="10.17" fill="#7cf2a3"/>
<rect x="548.64" y="540.62" width="9.41" height="10.17" fill="#caf544"/>
<rect x="103.14" y="550.29" width="9.41" height="10.17" fill="#f72a16"/>
<rect x="112.05" y="550.29" width="9.41" height="10.17" fill="#f72a16"/>
<rect x="120.96" y="550.29" width="9.41" height="10.17" fill="#f06423"/>
<rect x="129.87" y="550.29" width="9.41" height="10.17" fill="#f06423"/>
<rect x="138.78" y="550.29" width="9.41" height="10.17" fill="#f4ed3b"/>
<rect x="147.69" y="550.29" width="9.41" height="10.17" fill="#f4ed3b"/>
<rect x="156.60" y="550.29" width="9.41" height="10.17" fill="#f06423"/>
<rect x="165.51" y="550.29" width="9.41" height="10.17" fill="#eec436"/>
<rect x="174.42" y="550.29" width="9.41" height="10.17" fill="#f06423"/>
<rect x="183.33" y="550.29" width="9.41" height="10.17" fill="#eec436"/>
<rect x="192.24" y="550.29" width="9.41" height="10.17" fill="#eec436"/>
<rect x="201.16" y="550.29" width="9.41" height="10.17" fill="#f4ed3b"/>
<rect x="210.06" y="550.29" width="9.41" height="10.17" fill="#f4ed3b"/>
<rect x="218.97" y="550.29" width="9.41" height="10.17" fill="#f4ed3b"/>
<rect x="227.88" y="550.29" width="9.41" height="10.17" fill="#f4ed3b"/>
<rect x="236.79" y="550.29" width="9.41" height="10.17" fill="#caf544"/>
<rect x="245.70" y="550.29" width="9.41" height="10.17" fill="#caf544"/>
<rect x="254.61" y="550.29" width="9.41" height="10.17" fill="#f4ed3b"/>
<rect x="263.53" y="550.29" width="9.41" height="10.17" fill="#eec436"/>
<rect x="272.44" y="550.29" width="9.41" height="10.17" fill="#f4ed3b"/>
<rect x="281.34" y="550.29" width="9.41" height="10.17" fill="#caf544"/>
<rect x="290.26" y="550.29" width="9.41" height="10.17" fill="#f4ed3b"/>
<rect x="299.17" y="550.29" width="9.41" height="10.17" fill="#f4ed3b"/>
<rect x="308.07" y="550.29" width="9.41" height="10.17" fill="#f4ed3b"/>
<rect x="316.99" y="550.29" width="9.41" height="10.17" fill="#caf544"/>
<rect x="325.90" y="550.29" width="9.41" height="10.17" fill="#a2f56b"/>
<rect x="334.81" y="550.29" width="9.41" height="10.17" fill="#caf544"/>
<rect x="343.71" y="550.29" width="9.41" height="10.17" fill="#f4ed3b"/>
<rect x="352.63" y="550.29" width="9.41" height="10.17" fill="#f4ed3b"/>
<rect x="361.54" y="550.29" width="9.41" height="10.17" fill="#caf544"/>
<rect x="370.44" y="550.29" width="9.41" height="10.17" fill="#caf544"/>
<rect x="379.35" y="550.29" width="9.41" height="10.17" fill="#7cf2a3"/>
<rect x="388.27" y="550.29" width="9.41" height="10.17" fill="#f4ed3b"/>
<rect x="397.18" y="550.29" width="9.41" height="10.17" fill="#a2f56b"/>
<rect x="406.08" y="550.29" width="9.41" height="10.17" fill="#a2f56b"/>
<rect x="415.00" y="550.29" width="9.41" height="10.17" fill="#caf544"/>
<rect x="423.91" y="550.29" width="9.41" height="10.17" fill="#a2f56b"/>
<rect x="432.81" y="550.29" width="9.41" height="10.17" fill="#71f5e3"/>
<rect x="441.72" y="550.29" width="9.41" height="10.17" fill="#a2f56b"/>
<rect x="450.64" y="550.29" width="9.41" height="10.17" fill="#caf544"/>
<rect x="459.55" y="550.29" width="9.41" height="10.17" fill="#a2f56b"/>
<rect x="468.45" y="550.29" width="9.41" height="10.17" fill="#a2f56b"/>
<rect x="477.37" y="550.29" width="9.41" height="10.17" fill="#a2f56b"/>
<rect x="486.28" y="550.29" width="9.41" height="10.17" fill="#a2f56b"/>
<rect x="495.19" y="550.29" width="9.41" height="10.17" fill="#7cf2a3"/>
<rect x="504.09" y="550.29" width="9.41" height="10.17" fill="#71f5e3"/>
<rect x="513.00" y="550.29" width="9.41" height="10.17" fill="#f4ed3b"/>
<rect x="521.91" y="550.29" width="9.41" height="10.17" fill="#a2f56b"/>
<rect x="530.82" y="550.29" width="9.41" height="10.17" fill="#caf544"/>
<rect x="539.74" y="550.29" width="9.41" height="10.17" fill="#a2f56b"/>
<rect x="548.64" y="550.29" width="9.41" height="10.17" fill="#caf544"/>
<rect x="103.14" y="559.96" width="9.41" height="10.17" fill="#d31b14"/>
<rect x="112.05" y="559.96" width="9.41" height="10.17" fill="#f72a16"/>
<rect x="120.96" y="559.96" width="9.41" height="10.17" fill="#f06423"/>
<rect x="129.87" y="559.96" width="9.41" height="10.17" fill="#eec436"/>
<rect x="138.78" y="559.96" width="9.41" height="10.17" fill="#f4ed3b"/>
<rect x="147.69" y="559.96" width="9.41" height="10.17" fill="#eec436"/>
<rect x="156.60" y="559.96" width="9.41" height="10.17" fill="#f4ed3b"/>
<rect x="165.51" y="559.96" width="9.41" height="10.17" fill="#eec436"/>
<rect x="174.42" y="559.96" width="9.41" height="10.17" fill="#eec436"/>
<rect x="183.33" y="559.96" width="9.41" height="10.17" fill="#eec436"/>
<rect x="192.24" y="559.96" width="9.41" height="10.17" fill="#eec436"/>
<rect x="201.16" y="559.96" width="9.41" height="10.17" fill="#eec436"/>
<rect x="210.06" y="559.96" width="9.41" height="10.17" fill="#f06423"/>
<rect x="218.97" y="559.96" width="9.41" height="10.17" fill="#f4ed3b"/>
<rect x="227.88" y="559.96" width="9.41" height="10.17" fill="#f4ed3b"/>
<rect x="236.79" y="559.96" width="9.41" height="10.17" fill="#f4ed3b"/>
<rect x="245.70" y="559.96" width="9.41" height="10.17" fill="#f4ed3b"/>
<rect x="254.61" y="559.96" width="9.41" height="10.17" fill="#caf544"/>
<rect x="263.53" y="559.96" width="9.41" height="10.17" fill="#caf544"/>
<rect x="272.44" y="559.96" width="9.41" height="10.17" fill="#caf544"/>
<rect x="281.34" y="559.96" width="9.41" height="10.17" fill="#caf544"/>
<rect x="290.26" y="559.96" width="9.41" height="10.17" fill="#f4ed3b"/>
<rect x="299.17" y="559.96" width="9.41" height="10.17" fill="#f4ed3b"/>
<rect x="308.07" y="559.96" width="9.41" height="10.17" fill="#eec436"/>
<rect x="316.99" y="559.96" width="9.41" height="10.17" fill="#f4ed3b"/>
<rect x="325.90" y="559.96" width="9.41" height="10.17" fill="#a2f56b"/>
<rect x="334.81" y="559.96" width="9.41" height="10.17" fill="#caf544"/>
<rect x="343.71" y="559.96" width="9.41" height="10.17" fill="#eec436"/>
<rect x="352.63" y="559.96" width="9.41" height="10.17" fill="#a2f56b"/>
<rect x="361.54" y="559.96" width="9.41" height="10.17" fill="#a2f56b"/>
<rect x="370.44" y="559.96" width="9.41" height="10.17" fill="#f4ed3b"/>
<rect x="379.35" y="559.96" width="9.41" height="10.17" fill="#caf544"/>
<rect x="388.27" y="559.96" width="9.41" height="10.17" fill="#a2f56b"/>
<rect x="397.18" y="559.96" width="9.41" height="10.17" fill="#a2f56b"/>
<rect x="406.08" y="559.96" width="9.41" height="10.17" fill="#caf544"/>
<rect x="415.00" y="559.96" width="9.41" height="10.17" fill="#a2f56b"/>
<rect x="423.91" y="559.96" width="9.41" height="10.17" fill="#7cf2a3"/>
<rect x="432.81" y="559.96" width="9.41" height="10.17" fill="#caf544"/>
<rect x="441.72" y="559.96" width="9.41" height="10.17" fill="#caf544"/>
<rect x="450.64" y="559.96" width="9.41" height="10.17" fill="#a2f56b"/>
<rect x="459.55" y="559.96" width="9.41" height="10.17" fill="#7cf2a3"/>
<rect x="468.45" y="559.96" width="9.41" height="10.17" fill="#a2f56b"/>
<rect x="477.37" y="559.96" width="9.41" height="10.17" fill="#a2f56b"/>
<rect x="486.28" y="559.96" width="9.41" height="10.17" fill="#caf544"/>
<rect x="495.19" y="559.96" width="9.41" height="10.17" fill="#caf544"/>
<rect x="504.09" y="559.96" width="9.41" height="10.17" fill="#a2f56b"/>
<rect x="513.00" y="559.96" width="9.41" height="10.17" fill="#f4ed3b"/>
<rect x="521.91" y="559.96" width="9.41" height="10.17" fill="#caf544"/>
<rect x="530.82" y="559.96" width="9.41" height="10.17" fill="#a2f56b"/>
<rect x="539.74" y="559.96" width="9.41" height="10.17" fill="#caf544"/>
<rect x="548.64" y="559.96" width="9.41" height="10.17" fill="#caf544"/>
</g>
<rect x="105.00" y="385.80" width="451.80" height="183.10" fill="none" stroke="#000" stroke-width="1.6"/>
<path d="M107.60 568.90v-7.5M107.60 385.80v7.5M196.70 568.90v-7.5M196.70 385.80v7.5M285.80 568.90v-7.5M285.80 385.80v7.5M374.90 568.90v-7.5M374.90 385.80v7.5M464.00 568.90v-7.5M464.00 385.80v7.5M553.10 568.90v-7.5M553.10 385.80v7.5M105.00 564.80h7.5M556.80 564.80h-7.5M105.00 521.28h7.5M556.80 521.28h-7.5M105.00 477.77h7.5M556.80 477.77h-7.5M105.00 434.25h7.5M556.80 434.25h-7.5M105.00 390.74h7.5M556.80 390.74h-7.5" stroke="#000" stroke-width="1.6" fill="none"/>
<defs><linearGradient id="jet" x1="0" y1="1" x2="0" y2="0">
<stop offset="0.000" stop-color="#230fe6"/>
<stop offset="0.025" stop-color="#220eea"/>
<stop offset="0.050" stop-color="#200cee"/>
<stop offset="0.075" stop-color="#1f0bf1"/>
<stop offset="0.100" stop-color="#1e0af5"/>
<stop offset="0.125" stop-color="#2013f5"/>
<stop offset="0.150" stop-color="#211df5"/>
<stop offset="0.175" stop-color="#2326f5"/>
<stop offset="0.200" stop-color="#2d40f4"/>
<stop offset="0.225" stop-color="#3a5ff2"/>
<stop offset="0.250" stop-color="#467df0"/>
<stop offset="0.275" stop-color="#4e9bf5"/>
<stop offset="0.300" stop-color="#55b9fa"/>
<stop offset="0.325" stop-color="#63d6fa"/>
<stop offset="0.350" stop-color="#70f2fa"/>
<stop offset="0.375" stop-color="#71f6eb"/>
<stop offset="0.400" stop-color="#70f4d7"/>
<stop offset="0.425" stop-color="#70f2c4"/>
<stop offset="0.450" stop-color="#77f2b0"/>
<stop offset="0.475" stop-color="#80f29d"/>
<stop offset="0.500" stop-color="#8cf58c"/>
<stop offset="0.525" stop-color="#9df573"/>
<stop offset="0.550" stop-color="#adf55a"/>
<stop offset="0.575" stop-color="#c1f549"/>
<stop offset="0.600" stop-color="#d7f53c"/>
<stop offset="0.625" stop-color="#e5f63c"/>
<stop offset="0.650" stop-color="#f2f83c"/>
<stop offset="0.675" stop-color="#f3e53a"/>
<stop offset="0.700" stop-color="#f0cd37"/>
<stop offset="0.725" stop-color="#ecb634"/>
<stop offset="0.750" stop-color="#e8a030"/>
<stop offset="0.775" stop-color="#ec822a"/>
<stop offset="0.800" stop-color="#f06423"/>
<stop offset="0.825" stop-color="#f34e1e"/>
<stop offset="0.850" stop-color="#f53919"/>
<stop offset="0.875" stop-color="#f82314"/>
<stop offset="0.900" stop-color="#e82014"/>
<stop offset="0.925" stop-color="#d81c14"/>
<stop offset="0.950" stop-color="#c81914"/>
<stop offset="0.975" stop-color="#b41913"/>
<stop offset="1.000" stop-color="#a01912"/>
</linearGradient></defs>
<rect x="585.70" y="385.70" width="8.90" height="183.50" fill="url(#jet)" stroke="#000" stroke-width="1.6"/>
<path d="M585.70 523.33H594.60M585.70 477.45H594.60M585.70 431.57H594.60" stroke="#000" stroke-width="1.2"/>
<clipPath id="pc"><rect x="105.00" y="599.40" width="450.20" height="218.60"/></clipPath>
<g clip-path="url(#pc)">
<line x1="105.00" y1="709.20" x2="555.20" y2="709.20" stroke="#000" stroke-width="3.2" stroke-dasharray="12.3 5.7"/>
<line x1="285" y1="599.40" x2="285" y2="818.00" stroke="#4682b4" stroke-width="4"/>
<circle cx="105.00" cy="609.24" r="4.3" fill="#fe1c0c"/>
<circle cx="114.00" cy="617.54" r="4.3" fill="#fe1c0c"/>
<circle cx="123.01" cy="630.66" r="4.3" fill="#fe1c0c"/>
<circle cx="132.01" cy="638.09" r="4.3" fill="#fe1c0c"/>
<circle cx="141.02" cy="645.74" r="4.3" fill="#fe1c0c"/>
<circle cx="150.02" cy="649.90" r="4.3" fill="#fe1c0c"/>
<circle cx="159.02" cy="651.65" r="4.3" fill="#fe1c0c"/>
<circle cx="168.03" cy="651.65" r="4.3" fill="#fe1c0c"/>
<circle cx="177.03" cy="649.46" r="4.3" fill="#fe1c0c"/>
<circle cx="186.04" cy="650.12" r="4.3" fill="#fe1c0c"/>
<circle cx="195.04" cy="643.34" r="4.3" fill="#fe1c0c"/>
<circle cx="204.04" cy="648.15" r="4.3" fill="#fe1c0c"/>
<circle cx="213.05" cy="651.86" r="4.3" fill="#fe1c0c"/>
<circle cx="222.05" cy="651.86" r="4.3" fill="#fe1c0c"/>
<circle cx="231.06" cy="660.61" r="4.3" fill="#fe1c0c"/>
<circle cx="240.06" cy="660.83" r="4.3" fill="#fe1c0c"/>
<circle cx="249.06" cy="663.67" r="4.3" fill="#fe1c0c"/>
<circle cx="258.07" cy="662.36" r="4.3" fill="#fe1c0c"/>
<circle cx="267.07" cy="660.83" r="4.3" fill="#fe1c0c"/>
<circle cx="276.08" cy="662.36" r="4.3" fill="#fe1c0c"/>
<circle cx="285.08" cy="664.54" r="4.3" fill="#fe1c0c"/>
<circle cx="294.08" cy="662.79" r="4.3" fill="#fe1c0c"/>
<circle cx="303.09" cy="656.24" r="4.3" fill="#fe1c0c"/>
<circle cx="312.09" cy="654.71" r="4.3" fill="#fe1c0c"/>
<circle cx="321.10" cy="666.51" r="4.3" fill="#fe1c0c"/>
<circle cx="330.10" cy="667.60" r="4.3" fill="#fe1c0c"/>
<circle cx="339.10" cy="666.07" r="4.3" fill="#fe1c0c"/>
<circle cx="348.11" cy="664.98" r="4.3" fill="#fe1c0c"/>
<circle cx="357.11" cy="666.07" r="4.3" fill="#fe1c0c"/>
<circle cx="366.12" cy="669.57" r="4.3" fill="#fe1c0c"/>
<circle cx="375.12" cy="664.11" r="4.3" fill="#fe1c0c"/>
<circle cx="384.12" cy="669.57" r="4.3" fill="#fe1c0c"/>
<circle cx="393.13" cy="667.60" r="4.3" fill="#fe1c0c"/>
<circle cx="402.13" cy="667.60" r="4.3" fill="#fe1c0c"/>
<circle cx="411.14" cy="668.04" r="4.3" fill="#fe1c0c"/>
<circle cx="420.14" cy="671.76" r="4.3" fill="#fe1c0c"/>
<circle cx="429.14" cy="671.76" r="4.3" fill="#fe1c0c"/>
<circle cx="438.15" cy="676.35" r="4.3" fill="#fe1c0c"/>
<circle cx="447.15" cy="674.82" r="4.3" fill="#fe1c0c"/>
<circle cx="456.16" cy="672.19" r="4.3" fill="#fe1c0c"/>
<circle cx="465.16" cy="676.35" r="4.3" fill="#fe1c0c"/>
<circle cx="474.16" cy="674.82" r="4.3" fill="#fe1c0c"/>
<circle cx="483.17" cy="674.16" r="4.3" fill="#fe1c0c"/>
<circle cx="492.17" cy="672.85" r="4.3" fill="#fe1c0c"/>
<circle cx="501.18" cy="676.57" r="4.3" fill="#fe1c0c"/>
<circle cx="510.18" cy="677.66" r="4.3" fill="#fe1c0c"/>
<circle cx="519.18" cy="667.38" r="4.3" fill="#fe1c0c"/>
<circle cx="528.19" cy="675.25" r="4.3" fill="#fe1c0c"/>
<circle cx="537.19" cy="675.25" r="4.3" fill="#fe1c0c"/>
<circle cx="546.20" cy="678.31" r="4.3" fill="#fe1c0c"/>
<circle cx="555.20" cy="678.75" r="4.3" fill="#fe1c0c"/>
</g>
<rect x="105.00" y="599.40" width="450.20" height="218.60" fill="none" stroke="#262626" stroke-width="1.6"/>
<path d="M105.00 818.00v-6.5M105.00 599.40v6.5M195.04 818.00v-6.5M195.04 599.40v6.5M285.08 818.00v-6.5M285.08 599.40v6.5M375.12 818.00v-6.5M375.12 599.40v6.5M465.16 818.00v-6.5M465.16 599.40v6.5M555.20 818.00v-6.5M555.20 599.40v6.5M105.00 818.00h6.5M555.20 818.00h-6.5M105.00 774.28h6.5M555.20 774.28h-6.5M105.00 730.56h6.5M555.20 730.56h-6.5M105.00 686.84h6.5M555.20 686.84h-6.5M105.00 643.12h6.5M555.20 643.12h-6.5M105.00 599.40h6.5M555.20 599.40h-6.5" stroke="#222" stroke-width="1.2" fill="none"/>
<text x="266.10" y="835.55" font-size="19.72"  textLength="36.96" lengthAdjust="spacingAndGlyphs">200</text>
<text x="98.55" y="835.55" font-size="19.72"  textLength="11.66" lengthAdjust="spacingAndGlyphs">0</text>
<text x="176.30" y="835.55" font-size="19.72"  textLength="35.80" lengthAdjust="spacingAndGlyphs">100</text>
<text x="356.15" y="835.55" font-size="19.72"  textLength="37.56" lengthAdjust="spacingAndGlyphs">300</text>
<text x="447.10" y="835.55" font-size="19.72"  textLength="36.17" lengthAdjust="spacingAndGlyphs">400</text>
<text x="535.80" y="835.55" font-size="19.72"  textLength="37.92" lengthAdjust="spacingAndGlyphs">500</text>
<text x="70.65" y="607.20" font-size="19.72"  textLength="30.90" lengthAdjust="spacingAndGlyphs">1.0</text>
<text x="70.65" y="650.90" font-size="19.72"  textLength="31.10" lengthAdjust="spacingAndGlyphs">0.8</text>
<text x="70.65" y="694.60" font-size="19.72"  textLength="31.10" lengthAdjust="spacingAndGlyphs">0.6</text>
<text x="70.65" y="738.30" font-size="19.72"  textLength="30.80" lengthAdjust="spacingAndGlyphs">0.4</text>
<text x="70.65" y="782.10" font-size="19.72"  textLength="31.36" lengthAdjust="spacingAndGlyphs">0.2</text>
<text x="70.65" y="825.80" font-size="19.72"  textLength="31.06" lengthAdjust="spacingAndGlyphs">0.0</text>
<text x="599.05" y="393.65" font-size="19.72"  textLength="44.85" lengthAdjust="spacingAndGlyphs">1.00</text>
<text x="599.25" y="440.15" font-size="19.72"  textLength="43.98" lengthAdjust="spacingAndGlyphs">0.75</text>
<text x="599.25" y="485.95" font-size="19.72"  textLength="44.20" lengthAdjust="spacingAndGlyphs">0.50</text>
<text x="599.25" y="531.05" font-size="19.72"  textLength="43.98" lengthAdjust="spacingAndGlyphs">0.25</text>
<text x="599.25" y="577.95" font-size="19.72"  textLength="44.20" lengthAdjust="spacingAndGlyphs">0.00</text>
<text x="88.65" y="398.30" font-size="19.72"  textLength="11.32" lengthAdjust="spacingAndGlyphs"><tspan font-style="italic">π</tspan></text>
<text x="56.65" y="442.65" font-size="19.72"  textLength="44.21" lengthAdjust="spacingAndGlyphs">3<tspan font-style="italic">π</tspan>/4</text>
<text x="70.60" y="486.85" font-size="19.72"  textLength="30.58" lengthAdjust="spacingAndGlyphs"><tspan font-style="italic">π</tspan>/2</text>
<text x="68.60" y="530.45" font-size="19.72"  textLength="32.43" lengthAdjust="spacingAndGlyphs"><tspan font-style="italic">π</tspan>/4</text>
<text x="90.35" y="573.75" font-size="19.72"  textLength="10.80" lengthAdjust="spacingAndGlyphs">0</text>
<text x="198.25" y="859.90" font-size="20.64"  textLength="221.03" lengthAdjust="spacingAndGlyphs">Number of repetitions</text>
<text x="425.90" y="859.60" font-size="20.44" font-style="italic" textLength="14.49" lengthAdjust="spacingAndGlyphs">N</text>
<text x="440.95" y="862.50" font-size="14.55"  textLength="21.61" lengthAdjust="spacingAndGlyphs">DD</text>
<text transform="translate(674.40 527.35) rotate(-90)" font-size="22.00"  textLength="99.00" lengthAdjust="spacingAndGlyphs">Probability</text>
<text transform="translate(56.10 735.95) rotate(-90)" font-size="22.00"  textLength="66.40" lengthAdjust="spacingAndGlyphs">Fidelity</text>
<text transform="translate(21.60 550.05) rotate(-90)" font-size="22.00"  textLength="143.71" lengthAdjust="spacingAndGlyphs">RF polarization</text>
<text transform="translate(48.20 534.00) rotate(-90)" font-size="22.00"  textLength="109.71" lengthAdjust="spacingAndGlyphs">angle (rad.)</text>
<text x="47.05" y="376.45" font-size="21.00" font-weight="bold" textLength="12.59" lengthAdjust="spacingAndGlyphs">b</text>
<text x="47.55" y="586.35" font-size="21.00" font-weight="bold" textLength="10.95" lengthAdjust="spacingAndGlyphs">c</text>


</svg></body></html>
